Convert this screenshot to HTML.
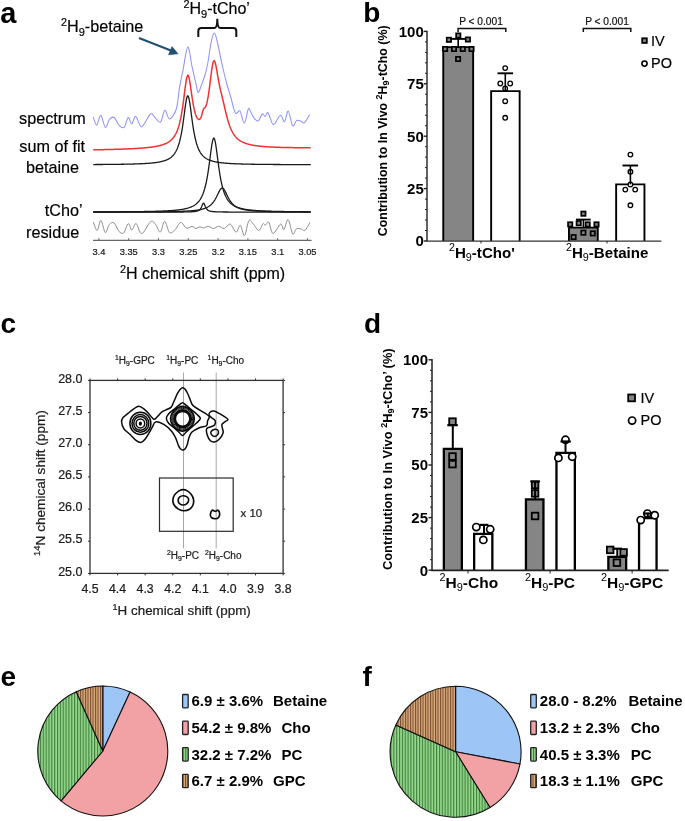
<!DOCTYPE html>
<html><head><meta charset="utf-8"><style>
html,body{margin:0;padding:0;background:#fff;}
svg{display:block;will-change:transform;}
text{font-family:"Liberation Sans", sans-serif;}
text:not([font-weight="bold"]){stroke:#111;stroke-width:0.2px;}
</style></head><body>
<svg width="685" height="821" viewBox="0 0 685 821">
<rect width="685" height="821" fill="#fff"/>
<defs><pattern id="pg" patternUnits="userSpaceOnUse" width="2.85" height="10"><rect width="2.85" height="10" fill="#94dc8c"/><rect x="0" width="1.15" height="10" fill="#427c3e"/></pattern><pattern id="pb" patternUnits="userSpaceOnUse" width="2.5" height="10"><rect width="2.5" height="10" fill="#d8ab7c"/><rect x="0" width="1.05" height="10" fill="#7a4c2e"/></pattern></defs>
<text x="0.3" y="23" font-size="29" font-weight="bold">a</text>
<text x="61" y="31.6" font-size="16.2"><tspan font-size="10.8" dy="-5.8">2</tspan><tspan dy="5.8">H</tspan><tspan font-size="11" dy="4">9</tspan><tspan dy="-4">-betaine</tspan></text>
<text x="183.5" y="13.7" font-size="16"><tspan font-size="10.8" dy="-5.8">2</tspan><tspan dy="5.8">H</tspan><tspan font-size="11" dy="4">9</tspan><tspan dy="-4">-tCho’</tspan></text>
<line x1="139" y1="38" x2="171.5" y2="50.7" stroke="#235070" stroke-width="2.1"/>
<path d="M178,53.8 L168.5,54.8 L172,46.6 Z" fill="#235070" stroke="#235070" stroke-width="0.6" stroke-linejoin="round"/>
<path d="M198.3,37 L198.3,31 Q198.3,28 201.3,28 L214.5,28 Q217.3,28 217.3,18.8 Q217.3,28 220.1,28 L233.3,28 Q236.3,28 236.3,31 L236.3,37" fill="none" stroke="#111" stroke-width="2"/>
<text x="52.4" y="124.2" font-size="16.2" text-anchor="middle">spectrum</text>
<text x="52.2" y="152.0" font-size="16.2" text-anchor="middle">sum of fit</text>
<text x="52.5" y="172.8" font-size="16.2" text-anchor="middle">betaine</text>
<text x="82.5" y="215.5" font-size="16.2" text-anchor="end">tCho’</text>
<text x="52.6" y="237.8" font-size="16.2" text-anchor="middle">residue</text>
<line x1="93" y1="240.3" x2="311.5" y2="240.3" stroke="#666" stroke-width="1.2"/>
<line x1="98.9" y1="238.2" x2="98.9" y2="240.3" stroke="#666" stroke-width="1"/>
<text x="98.9" y="254.5" font-size="9.3" text-anchor="middle" fill="#222">3.4</text>
<line x1="128.7" y1="238.2" x2="128.7" y2="240.3" stroke="#666" stroke-width="1"/>
<text x="128.7" y="254.5" font-size="9.3" text-anchor="middle" fill="#222">3.35</text>
<line x1="158.5" y1="238.2" x2="158.5" y2="240.3" stroke="#666" stroke-width="1"/>
<text x="158.5" y="254.5" font-size="9.3" text-anchor="middle" fill="#222">3.3</text>
<line x1="188.3" y1="238.2" x2="188.3" y2="240.3" stroke="#666" stroke-width="1"/>
<text x="188.3" y="254.5" font-size="9.3" text-anchor="middle" fill="#222">3.25</text>
<line x1="218.1" y1="238.2" x2="218.1" y2="240.3" stroke="#666" stroke-width="1"/>
<text x="218.1" y="254.5" font-size="9.3" text-anchor="middle" fill="#222">3.2</text>
<line x1="247.9" y1="238.2" x2="247.9" y2="240.3" stroke="#666" stroke-width="1"/>
<text x="247.9" y="254.5" font-size="9.3" text-anchor="middle" fill="#222">3.15</text>
<line x1="277.7" y1="238.2" x2="277.7" y2="240.3" stroke="#666" stroke-width="1"/>
<text x="277.7" y="254.5" font-size="9.3" text-anchor="middle" fill="#222">3.1</text>
<line x1="307.5" y1="238.2" x2="307.5" y2="240.3" stroke="#666" stroke-width="1"/>
<text x="307.5" y="254.5" font-size="9.3" text-anchor="middle" fill="#222">3.05</text>
<text x="120" y="279.3" font-size="16"><tspan font-size="10.8" dy="-6">2</tspan><tspan dy="6">H chemical shift (ppm)</tspan></text>
<path d="M93.20,164.54 L93.70,164.53 L94.20,164.53 L94.70,164.53 L95.20,164.53 L95.70,164.52 L96.20,164.52 L96.70,164.52 L97.20,164.51 L97.70,164.51 L98.20,164.51 L98.70,164.50 L99.20,164.50 L99.70,164.50 L100.20,164.49 L100.70,164.49 L101.20,164.49 L101.70,164.48 L102.20,164.48 L102.70,164.48 L103.20,164.47 L103.70,164.47 L104.20,164.46 L104.70,164.46 L105.20,164.46 L105.70,164.45 L106.20,164.45 L106.70,164.44 L107.20,164.44 L107.70,164.43 L108.20,164.43 L108.70,164.42 L109.20,164.42 L109.70,164.42 L110.20,164.41 L110.70,164.41 L111.20,164.40 L111.70,164.39 L112.20,164.39 L112.70,164.38 L113.20,164.38 L113.70,164.37 L114.20,164.37 L114.70,164.36 L115.20,164.35 L115.70,164.35 L116.20,164.34 L116.70,164.34 L117.20,164.33 L117.70,164.32 L118.20,164.32 L118.70,164.31 L119.20,164.30 L119.70,164.29 L120.20,164.29 L120.70,164.28 L121.20,164.27 L121.70,164.26 L122.20,164.26 L122.70,164.25 L123.20,164.24 L123.70,164.23 L124.20,164.22 L124.70,164.21 L125.20,164.20 L125.70,164.19 L126.20,164.18 L126.70,164.17 L127.20,164.16 L127.70,164.15 L128.20,164.14 L128.70,164.13 L129.20,164.12 L129.70,164.11 L130.20,164.10 L130.70,164.08 L131.20,164.07 L131.70,164.06 L132.20,164.04 L132.70,164.03 L133.20,164.02 L133.70,164.00 L134.20,163.99 L134.70,163.97 L135.20,163.96 L135.70,163.94 L136.20,163.92 L136.70,163.91 L137.20,163.89 L137.70,163.87 L138.20,163.85 L138.70,163.83 L139.20,163.81 L139.70,163.79 L140.20,163.77 L140.70,163.75 L141.20,163.73 L141.70,163.71 L142.20,163.68 L142.70,163.66 L143.20,163.63 L143.70,163.61 L144.20,163.58 L144.70,163.55 L145.20,163.52 L145.70,163.49 L146.20,163.46 L146.70,163.43 L147.20,163.40 L147.70,163.36 L148.20,163.33 L148.70,163.29 L149.20,163.25 L149.70,163.21 L150.20,163.17 L150.70,163.13 L151.20,163.08 L151.70,163.03 L152.20,162.99 L152.70,162.94 L153.20,162.88 L153.70,162.83 L154.20,162.77 L154.70,162.71 L155.20,162.65 L155.70,162.58 L156.20,162.51 L156.70,162.44 L157.20,162.37 L157.70,162.29 L158.20,162.21 L158.70,162.12 L159.20,162.03 L159.70,161.93 L160.20,161.83 L160.70,161.73 L161.20,161.62 L161.70,161.50 L162.20,161.38 L162.70,161.24 L163.20,161.11 L163.70,160.96 L164.20,160.81 L164.70,160.64 L165.20,160.47 L165.70,160.28 L166.20,160.08 L166.70,159.87 L167.20,159.65 L167.70,159.41 L168.20,159.16 L168.70,158.88 L169.20,158.59 L169.70,158.27 L170.20,157.94 L170.70,157.57 L171.20,157.18 L171.70,156.75 L172.20,156.29 L172.70,155.80 L173.20,155.25 L173.70,154.67 L174.20,154.03 L174.70,153.33 L175.20,152.56 L175.70,151.73 L176.20,150.81 L176.70,149.80 L177.20,148.69 L177.70,147.47 L178.20,146.12 L178.70,144.62 L179.20,142.97 L179.70,141.15 L180.20,139.13 L180.70,136.90 L181.20,134.44 L181.70,131.74 L182.20,128.79 L182.70,125.60 L183.20,122.16 L183.70,118.53 L184.20,114.75 L184.70,110.93 L185.20,107.18 L185.70,103.68 L186.20,100.60 L186.70,98.16 L187.20,96.52 L187.70,95.82 L188.20,96.12 L188.70,97.40 L189.20,99.54 L189.70,102.38 L190.20,105.74 L190.70,109.41 L191.20,113.22 L191.70,117.03 L192.20,120.73 L192.70,124.25 L193.20,127.54 L193.70,130.59 L194.20,133.39 L194.70,135.94 L195.20,138.26 L195.70,140.36 L196.20,142.26 L196.70,143.98 L197.20,145.54 L197.70,146.94 L198.20,148.22 L198.70,149.37 L199.20,150.42 L199.70,151.37 L200.20,152.24 L200.70,153.03 L201.20,153.75 L201.70,154.42 L202.20,155.03 L202.70,155.58 L203.20,156.10 L203.70,156.57 L204.20,157.01 L204.70,157.42 L205.20,157.79 L205.70,158.14 L206.20,158.47 L206.70,158.77 L207.20,159.05 L207.70,159.31 L208.20,159.56 L208.70,159.79 L209.20,160.00 L209.70,160.20 L210.20,160.39 L210.70,160.57 L211.20,160.74 L211.70,160.90 L212.20,161.05 L212.70,161.19 L213.20,161.32 L213.70,161.45 L214.20,161.57 L214.70,161.68 L215.20,161.79 L215.70,161.89 L216.20,161.99 L216.70,162.08 L217.20,162.17 L217.70,162.26 L218.20,162.34 L218.70,162.41 L219.20,162.49 L219.70,162.56 L220.20,162.62 L220.70,162.69 L221.20,162.75 L221.70,162.80 L222.20,162.86 L222.70,162.91 L223.20,162.97 L223.70,163.02 L224.20,163.06 L224.70,163.11 L225.20,163.15 L225.70,163.19 L226.20,163.23 L226.70,163.27 L227.20,163.31 L227.70,163.35 L228.20,163.38 L228.70,163.42 L229.20,163.45 L229.70,163.48 L230.20,163.51 L230.70,163.54 L231.20,163.57 L231.70,163.60 L232.20,163.62 L232.70,163.65 L233.20,163.67 L233.70,163.70 L234.20,163.72 L234.70,163.74 L235.20,163.76 L235.70,163.79 L236.20,163.81 L236.70,163.83 L237.20,163.85 L237.70,163.86 L238.20,163.88 L238.70,163.90 L239.20,163.92 L239.70,163.93 L240.20,163.95 L240.70,163.97 L241.20,163.98 L241.70,164.00 L242.20,164.01 L242.70,164.03 L243.20,164.04 L243.70,164.05 L244.20,164.07 L244.70,164.08 L245.20,164.09 L245.70,164.10 L246.20,164.11 L246.70,164.13 L247.20,164.14 L247.70,164.15 L248.20,164.16 L248.70,164.17 L249.20,164.18 L249.70,164.19 L250.20,164.20 L250.70,164.21 L251.20,164.22 L251.70,164.23 L252.20,164.24 L252.70,164.24 L253.20,164.25 L253.70,164.26 L254.20,164.27 L254.70,164.28 L255.20,164.28 L255.70,164.29 L256.20,164.30 L256.70,164.31 L257.20,164.31 L257.70,164.32 L258.20,164.33 L258.70,164.33 L259.20,164.34 L259.70,164.35 L260.20,164.35 L260.70,164.36 L261.20,164.36 L261.70,164.37 L262.20,164.38 L262.70,164.38 L263.20,164.39 L263.70,164.39 L264.20,164.40 L264.70,164.40 L265.20,164.41 L265.70,164.41 L266.20,164.42 L266.70,164.42 L267.20,164.43 L267.70,164.43 L268.20,164.44 L268.70,164.44 L269.20,164.45 L269.70,164.45 L270.20,164.45 L270.70,164.46 L271.20,164.46 L271.70,164.47 L272.20,164.47 L272.70,164.47 L273.20,164.48 L273.70,164.48 L274.20,164.49 L274.70,164.49 L275.20,164.49 L275.70,164.50 L276.20,164.50 L276.70,164.50 L277.20,164.51 L277.70,164.51 L278.20,164.51 L278.70,164.52 L279.20,164.52 L279.70,164.52 L280.20,164.52 L280.70,164.53 L281.20,164.53 L281.70,164.53 L282.20,164.54 L282.70,164.54 L283.20,164.54 L283.70,164.54 L284.20,164.55 L284.70,164.55 L285.20,164.55 L285.70,164.55 L286.20,164.56 L286.70,164.56 L287.20,164.56 L287.70,164.56 L288.20,164.57 L288.70,164.57 L289.20,164.57 L289.70,164.57 L290.20,164.58 L290.70,164.58 L291.20,164.58 L291.70,164.58 L292.20,164.58 L292.70,164.59 L293.20,164.59 L293.70,164.59 L294.20,164.59 L294.70,164.59 L295.20,164.60 L295.70,164.60 L296.20,164.60 L296.70,164.60 L297.20,164.60 L297.70,164.61 L298.20,164.61 L298.70,164.61 L299.20,164.61 L299.70,164.61 L300.20,164.61 L300.70,164.62 L301.20,164.62 L301.70,164.62 L302.20,164.62 L302.70,164.62 L303.20,164.62 L303.70,164.62 L304.20,164.63 L304.70,164.63 L305.20,164.63 L305.70,164.63 L306.20,164.63 L306.70,164.63 L307.20,164.63 L307.70,164.64 L308.20,164.64 L308.70,164.64 L309.20,164.64 L309.70,164.64 L310.20,164.64 L310.70,164.64" fill="none" stroke="#1a1a1a" stroke-width="1.3"/>
<path d="M93.20,211.90 L93.70,211.90 L94.20,211.90 L94.70,211.90 L95.20,211.90 L95.70,211.90 L96.20,211.89 L96.70,211.89 L97.20,211.89 L97.70,211.89 L98.20,211.89 L98.70,211.89 L99.20,211.88 L99.70,211.88 L100.20,211.88 L100.70,211.88 L101.20,211.88 L101.70,211.87 L102.20,211.87 L102.70,211.87 L103.20,211.87 L103.70,211.87 L104.20,211.86 L104.70,211.86 L105.20,211.86 L105.70,211.86 L106.20,211.86 L106.70,211.85 L107.20,211.85 L107.70,211.85 L108.20,211.85 L108.70,211.84 L109.20,211.84 L109.70,211.84 L110.20,211.84 L110.70,211.83 L111.20,211.83 L111.70,211.83 L112.20,211.83 L112.70,211.82 L113.20,211.82 L113.70,211.82 L114.20,211.81 L114.70,211.81 L115.20,211.81 L115.70,211.81 L116.20,211.80 L116.70,211.80 L117.20,211.80 L117.70,211.79 L118.20,211.79 L118.70,211.79 L119.20,211.78 L119.70,211.78 L120.20,211.78 L120.70,211.77 L121.20,211.77 L121.70,211.77 L122.20,211.76 L122.70,211.76 L123.20,211.76 L123.70,211.75 L124.20,211.75 L124.70,211.74 L125.20,211.74 L125.70,211.74 L126.20,211.73 L126.70,211.73 L127.20,211.72 L127.70,211.72 L128.20,211.71 L128.70,211.71 L129.20,211.70 L129.70,211.70 L130.20,211.70 L130.70,211.69 L131.20,211.69 L131.70,211.68 L132.20,211.68 L132.70,211.67 L133.20,211.66 L133.70,211.66 L134.20,211.65 L134.70,211.65 L135.20,211.64 L135.70,211.64 L136.20,211.63 L136.70,211.62 L137.20,211.62 L137.70,211.61 L138.20,211.61 L138.70,211.60 L139.20,211.59 L139.70,211.59 L140.20,211.58 L140.70,211.57 L141.20,211.56 L141.70,211.56 L142.20,211.55 L142.70,211.54 L143.20,211.53 L143.70,211.53 L144.20,211.52 L144.70,211.51 L145.20,211.50 L145.70,211.49 L146.20,211.48 L146.70,211.47 L147.20,211.46 L147.70,211.45 L148.20,211.44 L148.70,211.43 L149.20,211.42 L149.70,211.41 L150.20,211.40 L150.70,211.39 L151.20,211.38 L151.70,211.37 L152.20,211.36 L152.70,211.35 L153.20,211.33 L153.70,211.32 L154.20,211.31 L154.70,211.29 L155.20,211.28 L155.70,211.27 L156.20,211.25 L156.70,211.24 L157.20,211.22 L157.70,211.21 L158.20,211.19 L158.70,211.17 L159.20,211.16 L159.70,211.14 L160.20,211.12 L160.70,211.10 L161.20,211.09 L161.70,211.07 L162.20,211.05 L162.70,211.03 L163.20,211.01 L163.70,210.98 L164.20,210.96 L164.70,210.94 L165.20,210.91 L165.70,210.89 L166.20,210.87 L166.70,210.84 L167.20,210.81 L167.70,210.79 L168.20,210.76 L168.70,210.73 L169.20,210.70 L169.70,210.67 L170.20,210.63 L170.70,210.60 L171.20,210.57 L171.70,210.53 L172.20,210.49 L172.70,210.45 L173.20,210.41 L173.70,210.37 L174.20,210.33 L174.70,210.28 L175.20,210.24 L175.70,210.19 L176.20,210.14 L176.70,210.09 L177.20,210.04 L177.70,209.98 L178.20,209.92 L178.70,209.86 L179.20,209.80 L179.70,209.73 L180.20,209.66 L180.70,209.59 L181.20,209.52 L181.70,209.44 L182.20,209.36 L182.70,209.27 L183.20,209.18 L183.70,209.09 L184.20,208.99 L184.70,208.89 L185.20,208.78 L185.70,208.66 L186.20,208.55 L186.70,208.42 L187.20,208.29 L187.70,208.15 L188.20,208.00 L188.70,207.84 L189.20,207.68 L189.70,207.51 L190.20,207.32 L190.70,207.13 L191.20,206.92 L191.70,206.70 L192.20,206.47 L192.70,206.22 L193.20,205.95 L193.70,205.67 L194.20,205.37 L194.70,205.05 L195.20,204.70 L195.70,204.33 L196.20,203.93 L196.70,203.50 L197.20,203.04 L197.70,202.54 L198.20,202.01 L198.70,201.42 L199.20,200.79 L199.70,200.11 L200.20,199.37 L200.70,198.56 L201.20,197.68 L201.70,196.71 L202.20,195.66 L202.70,194.50 L203.20,193.24 L203.70,191.85 L204.20,190.32 L204.70,188.64 L205.20,186.79 L205.70,184.76 L206.20,182.53 L206.70,180.08 L207.20,177.41 L207.70,174.50 L208.20,171.35 L208.70,167.96 L209.20,164.37 L209.70,160.61 L210.20,156.76 L210.70,152.90 L211.20,149.17 L211.70,145.72 L212.20,142.72 L212.70,140.36 L213.20,138.79 L213.70,138.12 L214.20,138.41 L214.70,139.63 L215.20,141.69 L215.70,144.45 L216.20,147.74 L216.70,151.38 L217.20,155.21 L217.70,159.08 L218.20,162.89 L218.70,166.55 L219.20,170.02 L219.70,173.27 L220.20,176.27 L220.70,179.04 L221.20,181.58 L221.70,183.89 L222.20,186.00 L222.70,187.92 L223.20,189.67 L223.70,191.25 L224.20,192.70 L224.70,194.01 L225.20,195.21 L225.70,196.30 L226.20,197.30 L226.70,198.21 L227.20,199.05 L227.70,199.82 L228.20,200.53 L228.70,201.18 L229.20,201.78 L229.70,202.33 L230.20,202.85 L230.70,203.32 L231.20,203.76 L231.70,204.17 L232.20,204.55 L232.70,204.91 L233.20,205.24 L233.70,205.55 L234.20,205.84 L234.70,206.11 L235.20,206.37 L235.70,206.61 L236.20,206.83 L236.70,207.05 L237.20,207.25 L237.70,207.43 L238.20,207.61 L238.70,207.78 L239.20,207.94 L239.70,208.09 L240.20,208.23 L240.70,208.37 L241.20,208.50 L241.70,208.62 L242.20,208.73 L242.70,208.84 L243.20,208.95 L243.70,209.05 L244.20,209.14 L244.70,209.24 L245.20,209.32 L245.70,209.41 L246.20,209.49 L246.70,209.56 L247.20,209.64 L247.70,209.70 L248.20,209.77 L248.70,209.84 L249.20,209.90 L249.70,209.96 L250.20,210.01 L250.70,210.07 L251.20,210.12 L251.70,210.17 L252.20,210.22 L252.70,210.27 L253.20,210.31 L253.70,210.36 L254.20,210.40 L254.70,210.44 L255.20,210.48 L255.70,210.51 L256.20,210.55 L256.70,210.59 L257.20,210.62 L257.70,210.65 L258.20,210.68 L258.70,210.72 L259.20,210.75 L259.70,210.77 L260.20,210.80 L260.70,210.83 L261.20,210.86 L261.70,210.88 L262.20,210.91 L262.70,210.93 L263.20,210.95 L263.70,210.97 L264.20,211.00 L264.70,211.02 L265.20,211.04 L265.70,211.06 L266.20,211.08 L266.70,211.10 L267.20,211.12 L267.70,211.13 L268.20,211.15 L268.70,211.17 L269.20,211.18 L269.70,211.20 L270.20,211.22 L270.70,211.23 L271.20,211.25 L271.70,211.26 L272.20,211.28 L272.70,211.29 L273.20,211.30 L273.70,211.32 L274.20,211.33 L274.70,211.34 L275.20,211.35 L275.70,211.36 L276.20,211.38 L276.70,211.39 L277.20,211.40 L277.70,211.41 L278.20,211.42 L278.70,211.43 L279.20,211.44 L279.70,211.45 L280.20,211.46 L280.70,211.47 L281.20,211.48 L281.70,211.49 L282.20,211.50 L282.70,211.51 L283.20,211.51 L283.70,211.52 L284.20,211.53 L284.70,211.54 L285.20,211.55 L285.70,211.55 L286.20,211.56 L286.70,211.57 L287.20,211.58 L287.70,211.58 L288.20,211.59 L288.70,211.60 L289.20,211.60 L289.70,211.61 L290.20,211.62 L290.70,211.62 L291.20,211.63 L291.70,211.63 L292.20,211.64 L292.70,211.65 L293.20,211.65 L293.70,211.66 L294.20,211.66 L294.70,211.67 L295.20,211.67 L295.70,211.68 L296.20,211.68 L296.70,211.69 L297.20,211.69 L297.70,211.70 L298.20,211.70 L298.70,211.71 L299.20,211.71 L299.70,211.72 L300.20,211.72 L300.70,211.73 L301.20,211.73 L301.70,211.73 L302.20,211.74 L302.70,211.74 L303.20,211.75 L303.70,211.75 L304.20,211.75 L304.70,211.76 L305.20,211.76 L305.70,211.76 L306.20,211.77 L306.70,211.77 L307.20,211.78 L307.70,211.78 L308.20,211.78 L308.70,211.79 L309.20,211.79 L309.70,211.79 L310.20,211.80 L310.70,211.80" fill="none" stroke="#1a1a1a" stroke-width="1.3"/>
<path d="M93.20,212.02 L93.70,212.02 L94.20,212.02 L94.70,212.02 L95.20,212.02 L95.70,212.02 L96.20,212.02 L96.70,212.01 L97.20,212.01 L97.70,212.01 L98.20,212.01 L98.70,212.01 L99.20,212.01 L99.70,212.01 L100.20,212.01 L100.70,212.01 L101.20,212.01 L101.70,212.01 L102.20,212.01 L102.70,212.01 L103.20,212.01 L103.70,212.00 L104.20,212.00 L104.70,212.00 L105.20,212.00 L105.70,212.00 L106.20,212.00 L106.70,212.00 L107.20,212.00 L107.70,212.00 L108.20,212.00 L108.70,212.00 L109.20,211.99 L109.70,211.99 L110.20,211.99 L110.70,211.99 L111.20,211.99 L111.70,211.99 L112.20,211.99 L112.70,211.99 L113.20,211.99 L113.70,211.99 L114.20,211.98 L114.70,211.98 L115.20,211.98 L115.70,211.98 L116.20,211.98 L116.70,211.98 L117.20,211.98 L117.70,211.98 L118.20,211.98 L118.70,211.97 L119.20,211.97 L119.70,211.97 L120.20,211.97 L120.70,211.97 L121.20,211.97 L121.70,211.97 L122.20,211.97 L122.70,211.96 L123.20,211.96 L123.70,211.96 L124.20,211.96 L124.70,211.96 L125.20,211.96 L125.70,211.96 L126.20,211.95 L126.70,211.95 L127.20,211.95 L127.70,211.95 L128.20,211.95 L128.70,211.95 L129.20,211.94 L129.70,211.94 L130.20,211.94 L130.70,211.94 L131.20,211.94 L131.70,211.94 L132.20,211.93 L132.70,211.93 L133.20,211.93 L133.70,211.93 L134.20,211.93 L134.70,211.92 L135.20,211.92 L135.70,211.92 L136.20,211.92 L136.70,211.92 L137.20,211.91 L137.70,211.91 L138.20,211.91 L138.70,211.91 L139.20,211.91 L139.70,211.90 L140.20,211.90 L140.70,211.90 L141.20,211.90 L141.70,211.89 L142.20,211.89 L142.70,211.89 L143.20,211.89 L143.70,211.88 L144.20,211.88 L144.70,211.88 L145.20,211.87 L145.70,211.87 L146.20,211.87 L146.70,211.87 L147.20,211.86 L147.70,211.86 L148.20,211.86 L148.70,211.85 L149.20,211.85 L149.70,211.85 L150.20,211.84 L150.70,211.84 L151.20,211.84 L151.70,211.83 L152.20,211.83 L152.70,211.82 L153.20,211.82 L153.70,211.82 L154.20,211.81 L154.70,211.81 L155.20,211.80 L155.70,211.80 L156.20,211.79 L156.70,211.79 L157.20,211.78 L157.70,211.78 L158.20,211.77 L158.70,211.77 L159.20,211.76 L159.70,211.76 L160.20,211.75 L160.70,211.75 L161.20,211.74 L161.70,211.74 L162.20,211.73 L162.70,211.72 L163.20,211.72 L163.70,211.71 L164.20,211.71 L164.70,211.70 L165.20,211.69 L165.70,211.68 L166.20,211.68 L166.70,211.67 L167.20,211.66 L167.70,211.65 L168.20,211.65 L168.70,211.64 L169.20,211.63 L169.70,211.62 L170.20,211.61 L170.70,211.60 L171.20,211.59 L171.70,211.58 L172.20,211.57 L172.70,211.56 L173.20,211.55 L173.70,211.54 L174.20,211.53 L174.70,211.52 L175.20,211.50 L175.70,211.49 L176.20,211.48 L176.70,211.47 L177.20,211.45 L177.70,211.44 L178.20,211.42 L178.70,211.41 L179.20,211.39 L179.70,211.38 L180.20,211.36 L180.70,211.34 L181.20,211.32 L181.70,211.30 L182.20,211.28 L182.70,211.26 L183.20,211.24 L183.70,211.22 L184.20,211.20 L184.70,211.18 L185.20,211.15 L185.70,211.13 L186.20,211.10 L186.70,211.07 L187.20,211.05 L187.70,211.02 L188.20,210.99 L188.70,210.95 L189.20,210.92 L189.70,210.89 L190.20,210.85 L190.70,210.81 L191.20,210.77 L191.70,210.73 L192.20,210.69 L192.70,210.64 L193.20,210.60 L193.70,210.55 L194.20,210.49 L194.70,210.44 L195.20,210.38 L195.70,210.32 L196.20,210.26 L196.70,210.19 L197.20,210.12 L197.70,210.04 L198.20,209.96 L198.70,209.88 L199.20,209.79 L199.70,209.70 L200.20,209.60 L200.70,209.50 L201.20,209.39 L201.70,209.27 L202.20,209.14 L202.70,209.01 L203.20,208.86 L203.70,208.71 L204.20,208.55 L204.70,208.38 L205.20,208.19 L205.70,207.99 L206.20,207.78 L206.70,207.55 L207.20,207.30 L207.70,207.03 L208.20,206.75 L208.70,206.44 L209.20,206.11 L209.70,205.75 L210.20,205.36 L210.70,204.94 L211.20,204.48 L211.70,203.99 L212.20,203.46 L212.70,202.88 L213.20,202.26 L213.70,201.59 L214.20,200.87 L214.70,200.10 L215.20,199.27 L215.70,198.39 L216.20,197.47 L216.70,196.49 L217.20,195.48 L217.70,194.45 L218.20,193.41 L218.70,192.39 L219.20,191.41 L219.70,190.50 L220.20,189.69 L220.70,189.02 L221.20,188.52 L221.70,188.21 L222.20,188.10 L222.70,188.21 L223.20,188.52 L223.70,189.02 L224.20,189.69 L224.70,190.50 L225.20,191.41 L225.70,192.39 L226.20,193.41 L226.70,194.45 L227.20,195.48 L227.70,196.49 L228.20,197.47 L228.70,198.39 L229.20,199.27 L229.70,200.10 L230.20,200.87 L230.70,201.59 L231.20,202.26 L231.70,202.88 L232.20,203.46 L232.70,203.99 L233.20,204.48 L233.70,204.94 L234.20,205.36 L234.70,205.75 L235.20,206.11 L235.70,206.44 L236.20,206.75 L236.70,207.03 L237.20,207.30 L237.70,207.55 L238.20,207.78 L238.70,207.99 L239.20,208.19 L239.70,208.38 L240.20,208.55 L240.70,208.71 L241.20,208.86 L241.70,209.01 L242.20,209.14 L242.70,209.27 L243.20,209.39 L243.70,209.50 L244.20,209.60 L244.70,209.70 L245.20,209.79 L245.70,209.88 L246.20,209.96 L246.70,210.04 L247.20,210.12 L247.70,210.19 L248.20,210.26 L248.70,210.32 L249.20,210.38 L249.70,210.44 L250.20,210.49 L250.70,210.55 L251.20,210.60 L251.70,210.64 L252.20,210.69 L252.70,210.73 L253.20,210.77 L253.70,210.81 L254.20,210.85 L254.70,210.89 L255.20,210.92 L255.70,210.95 L256.20,210.99 L256.70,211.02 L257.20,211.05 L257.70,211.07 L258.20,211.10 L258.70,211.13 L259.20,211.15 L259.70,211.18 L260.20,211.20 L260.70,211.22 L261.20,211.24 L261.70,211.26 L262.20,211.28 L262.70,211.30 L263.20,211.32 L263.70,211.34 L264.20,211.36 L264.70,211.38 L265.20,211.39 L265.70,211.41 L266.20,211.42 L266.70,211.44 L267.20,211.45 L267.70,211.47 L268.20,211.48 L268.70,211.49 L269.20,211.50 L269.70,211.52 L270.20,211.53 L270.70,211.54 L271.20,211.55 L271.70,211.56 L272.20,211.57 L272.70,211.58 L273.20,211.59 L273.70,211.60 L274.20,211.61 L274.70,211.62 L275.20,211.63 L275.70,211.64 L276.20,211.65 L276.70,211.65 L277.20,211.66 L277.70,211.67 L278.20,211.68 L278.70,211.68 L279.20,211.69 L279.70,211.70 L280.20,211.71 L280.70,211.71 L281.20,211.72 L281.70,211.72 L282.20,211.73 L282.70,211.74 L283.20,211.74 L283.70,211.75 L284.20,211.75 L284.70,211.76 L285.20,211.76 L285.70,211.77 L286.20,211.77 L286.70,211.78 L287.20,211.78 L287.70,211.79 L288.20,211.79 L288.70,211.80 L289.20,211.80 L289.70,211.81 L290.20,211.81 L290.70,211.82 L291.20,211.82 L291.70,211.82 L292.20,211.83 L292.70,211.83 L293.20,211.84 L293.70,211.84 L294.20,211.84 L294.70,211.85 L295.20,211.85 L295.70,211.85 L296.20,211.86 L296.70,211.86 L297.20,211.86 L297.70,211.87 L298.20,211.87 L298.70,211.87 L299.20,211.87 L299.70,211.88 L300.20,211.88 L300.70,211.88 L301.20,211.89 L301.70,211.89 L302.20,211.89 L302.70,211.89 L303.20,211.90 L303.70,211.90 L304.20,211.90 L304.70,211.90 L305.20,211.91 L305.70,211.91 L306.20,211.91 L306.70,211.91 L307.20,211.91 L307.70,211.92 L308.20,211.92 L308.70,211.92 L309.20,211.92 L309.70,211.92 L310.20,211.93 L310.70,211.93" fill="none" stroke="#1a1a1a" stroke-width="1.3"/>
<path d="M93.20,212.10 L93.70,212.10 L94.20,212.10 L94.70,212.10 L95.20,212.10 L95.70,212.10 L96.20,212.10 L96.70,212.10 L97.20,212.10 L97.70,212.10 L98.20,212.10 L98.70,212.10 L99.20,212.10 L99.70,212.10 L100.20,212.10 L100.70,212.10 L101.20,212.10 L101.70,212.10 L102.20,212.10 L102.70,212.10 L103.20,212.10 L103.70,212.10 L104.20,212.10 L104.70,212.10 L105.20,212.10 L105.70,212.10 L106.20,212.09 L106.70,212.09 L107.20,212.09 L107.70,212.09 L108.20,212.09 L108.70,212.09 L109.20,212.09 L109.70,212.09 L110.20,212.09 L110.70,212.09 L111.20,212.09 L111.70,212.09 L112.20,212.09 L112.70,212.09 L113.20,212.09 L113.70,212.09 L114.20,212.09 L114.70,212.09 L115.20,212.09 L115.70,212.09 L116.20,212.09 L116.70,212.09 L117.20,212.09 L117.70,212.09 L118.20,212.09 L118.70,212.09 L119.20,212.09 L119.70,212.09 L120.20,212.09 L120.70,212.09 L121.20,212.09 L121.70,212.09 L122.20,212.09 L122.70,212.09 L123.20,212.09 L123.70,212.09 L124.20,212.09 L124.70,212.09 L125.20,212.09 L125.70,212.09 L126.20,212.09 L126.70,212.09 L127.20,212.09 L127.70,212.09 L128.20,212.09 L128.70,212.09 L129.20,212.09 L129.70,212.09 L130.20,212.09 L130.70,212.09 L131.20,212.09 L131.70,212.09 L132.20,212.09 L132.70,212.09 L133.20,212.09 L133.70,212.09 L134.20,212.09 L134.70,212.09 L135.20,212.09 L135.70,212.09 L136.20,212.09 L136.70,212.09 L137.20,212.09 L137.70,212.09 L138.20,212.09 L138.70,212.09 L139.20,212.09 L139.70,212.09 L140.20,212.09 L140.70,212.09 L141.20,212.09 L141.70,212.09 L142.20,212.09 L142.70,212.09 L143.20,212.09 L143.70,212.09 L144.20,212.09 L144.70,212.09 L145.20,212.09 L145.70,212.09 L146.20,212.09 L146.70,212.09 L147.20,212.09 L147.70,212.08 L148.20,212.08 L148.70,212.08 L149.20,212.08 L149.70,212.08 L150.20,212.08 L150.70,212.08 L151.20,212.08 L151.70,212.08 L152.20,212.08 L152.70,212.08 L153.20,212.08 L153.70,212.08 L154.20,212.08 L154.70,212.08 L155.20,212.08 L155.70,212.08 L156.20,212.08 L156.70,212.08 L157.20,212.08 L157.70,212.08 L158.20,212.08 L158.70,212.08 L159.20,212.08 L159.70,212.08 L160.20,212.07 L160.70,212.07 L161.20,212.07 L161.70,212.07 L162.20,212.07 L162.70,212.07 L163.20,212.07 L163.70,212.07 L164.20,212.07 L164.70,212.07 L165.20,212.07 L165.70,212.07 L166.20,212.07 L166.70,212.06 L167.20,212.06 L167.70,212.06 L168.20,212.06 L168.70,212.06 L169.20,212.06 L169.70,212.06 L170.20,212.06 L170.70,212.06 L171.20,212.05 L171.70,212.05 L172.20,212.05 L172.70,212.05 L173.20,212.05 L173.70,212.05 L174.20,212.04 L174.70,212.04 L175.20,212.04 L175.70,212.04 L176.20,212.04 L176.70,212.03 L177.20,212.03 L177.70,212.03 L178.20,212.03 L178.70,212.02 L179.20,212.02 L179.70,212.02 L180.20,212.01 L180.70,212.01 L181.20,212.01 L181.70,212.00 L182.20,212.00 L182.70,211.99 L183.20,211.99 L183.70,211.98 L184.20,211.97 L184.70,211.97 L185.20,211.96 L185.70,211.95 L186.20,211.94 L186.70,211.93 L187.20,211.92 L187.70,211.91 L188.20,211.90 L188.70,211.89 L189.20,211.87 L189.70,211.86 L190.20,211.84 L190.70,211.82 L191.20,211.80 L191.70,211.77 L192.20,211.74 L192.70,211.71 L193.20,211.67 L193.70,211.63 L194.20,211.58 L194.70,211.52 L195.20,211.46 L195.70,211.38 L196.20,211.29 L196.70,211.18 L197.20,211.04 L197.70,210.88 L198.20,210.67 L198.70,210.42 L199.20,210.10 L199.70,209.69 L200.20,209.16 L200.70,208.47 L201.20,207.60 L201.70,206.52 L202.20,205.28 L202.70,204.07 L203.20,203.25 L203.70,203.17 L204.20,203.86 L204.70,205.03 L205.20,206.28 L205.70,207.40 L206.20,208.32 L206.70,209.03 L207.20,209.59 L207.70,210.02 L208.20,210.36 L208.70,210.63 L209.20,210.84 L209.70,211.01 L210.20,211.15 L210.70,211.27 L211.20,211.36 L211.70,211.44 L212.20,211.51 L212.70,211.57 L213.20,211.62 L213.70,211.66 L214.20,211.70 L214.70,211.74 L215.20,211.77 L215.70,211.79 L216.20,211.81 L216.70,211.83 L217.20,211.85 L217.70,211.87 L218.20,211.88 L218.70,211.90 L219.20,211.91 L219.70,211.92 L220.20,211.93 L220.70,211.94 L221.20,211.95 L221.70,211.96 L222.20,211.97 L222.70,211.97 L223.20,211.98 L223.70,211.98 L224.20,211.99 L224.70,212.00 L225.20,212.00 L225.70,212.00 L226.20,212.01 L226.70,212.01 L227.20,212.02 L227.70,212.02 L228.20,212.02 L228.70,212.03 L229.20,212.03 L229.70,212.03 L230.20,212.03 L230.70,212.04 L231.20,212.04 L231.70,212.04 L232.20,212.04 L232.70,212.04 L233.20,212.05 L233.70,212.05 L234.20,212.05 L234.70,212.05 L235.20,212.05 L235.70,212.05 L236.20,212.06 L236.70,212.06 L237.20,212.06 L237.70,212.06 L238.20,212.06 L238.70,212.06 L239.20,212.06 L239.70,212.06 L240.20,212.06 L240.70,212.07 L241.20,212.07 L241.70,212.07 L242.20,212.07 L242.70,212.07 L243.20,212.07 L243.70,212.07 L244.20,212.07 L244.70,212.07 L245.20,212.07 L245.70,212.07 L246.20,212.07 L246.70,212.07 L247.20,212.08 L247.70,212.08 L248.20,212.08 L248.70,212.08 L249.20,212.08 L249.70,212.08 L250.20,212.08 L250.70,212.08 L251.20,212.08 L251.70,212.08 L252.20,212.08 L252.70,212.08 L253.20,212.08 L253.70,212.08 L254.20,212.08 L254.70,212.08 L255.20,212.08 L255.70,212.08 L256.20,212.08 L256.70,212.08 L257.20,212.08 L257.70,212.08 L258.20,212.08 L258.70,212.08 L259.20,212.08 L259.70,212.08 L260.20,212.09 L260.70,212.09 L261.20,212.09 L261.70,212.09 L262.20,212.09 L262.70,212.09 L263.20,212.09 L263.70,212.09 L264.20,212.09 L264.70,212.09 L265.20,212.09 L265.70,212.09 L266.20,212.09 L266.70,212.09 L267.20,212.09 L267.70,212.09 L268.20,212.09 L268.70,212.09 L269.20,212.09 L269.70,212.09 L270.20,212.09 L270.70,212.09 L271.20,212.09 L271.70,212.09 L272.20,212.09 L272.70,212.09 L273.20,212.09 L273.70,212.09 L274.20,212.09 L274.70,212.09 L275.20,212.09 L275.70,212.09 L276.20,212.09 L276.70,212.09 L277.20,212.09 L277.70,212.09 L278.20,212.09 L278.70,212.09 L279.20,212.09 L279.70,212.09 L280.20,212.09 L280.70,212.09 L281.20,212.09 L281.70,212.09 L282.20,212.09 L282.70,212.09 L283.20,212.09 L283.70,212.09 L284.20,212.09 L284.70,212.09 L285.20,212.09 L285.70,212.09 L286.20,212.09 L286.70,212.09 L287.20,212.09 L287.70,212.09 L288.20,212.09 L288.70,212.09 L289.20,212.09 L289.70,212.09 L290.20,212.09 L290.70,212.09 L291.20,212.09 L291.70,212.09 L292.20,212.09 L292.70,212.09 L293.20,212.09 L293.70,212.09 L294.20,212.09 L294.70,212.09 L295.20,212.09 L295.70,212.09 L296.20,212.09 L296.70,212.09 L297.20,212.09 L297.70,212.09 L298.20,212.09 L298.70,212.09 L299.20,212.09 L299.70,212.09 L300.20,212.09 L300.70,212.09 L301.20,212.10 L301.70,212.10 L302.20,212.10 L302.70,212.10 L303.20,212.10 L303.70,212.10 L304.20,212.10 L304.70,212.10 L305.20,212.10 L305.70,212.10 L306.20,212.10 L306.70,212.10 L307.20,212.10 L307.70,212.10 L308.20,212.10 L308.70,212.10 L309.20,212.10 L309.70,212.10 L310.20,212.10 L310.70,212.10" fill="none" stroke="#1a1a1a" stroke-width="1.3"/>
<path d="M93.20,149.86 L93.70,149.85 L94.20,149.84 L94.70,149.83 L95.20,149.82 L95.70,149.81 L96.20,149.80 L96.70,149.79 L97.20,149.78 L97.70,149.77 L98.20,149.76 L98.70,149.75 L99.20,149.74 L99.70,149.73 L100.20,149.71 L100.70,149.70 L101.20,149.69 L101.70,149.68 L102.20,149.67 L102.70,149.66 L103.20,149.65 L103.70,149.64 L104.20,149.63 L104.70,149.61 L105.20,149.60 L105.70,149.59 L106.20,149.58 L106.70,149.57 L107.20,149.55 L107.70,149.54 L108.20,149.53 L108.70,149.52 L109.20,149.50 L109.70,149.49 L110.20,149.48 L110.70,149.46 L111.20,149.45 L111.70,149.44 L112.20,149.42 L112.70,149.41 L113.20,149.40 L113.70,149.38 L114.20,149.37 L114.70,149.35 L115.20,149.34 L115.70,149.32 L116.20,149.31 L116.70,149.29 L117.20,149.28 L117.70,149.26 L118.20,149.25 L118.70,149.23 L119.20,149.21 L119.70,149.20 L120.20,149.18 L120.70,149.16 L121.20,149.15 L121.70,149.13 L122.20,149.11 L122.70,149.09 L123.20,149.07 L123.70,149.06 L124.20,149.04 L124.70,149.02 L125.20,149.00 L125.70,148.98 L126.20,148.96 L126.70,148.94 L127.20,148.92 L127.70,148.90 L128.20,148.87 L128.70,148.85 L129.20,148.83 L129.70,148.81 L130.20,148.78 L130.70,148.76 L131.20,148.74 L131.70,148.71 L132.20,148.69 L132.70,148.66 L133.20,148.64 L133.70,148.61 L134.20,148.58 L134.70,148.55 L135.20,148.53 L135.70,148.50 L136.20,148.47 L136.70,148.44 L137.20,148.41 L137.70,148.38 L138.20,148.34 L138.70,148.31 L139.20,148.28 L139.70,148.24 L140.20,148.21 L140.70,148.17 L141.20,148.14 L141.70,148.10 L142.20,148.06 L142.70,148.02 L143.20,147.98 L143.70,147.94 L144.20,147.90 L144.70,147.85 L145.20,147.81 L145.70,147.76 L146.20,147.71 L146.70,147.66 L147.20,147.61 L147.70,147.56 L148.20,147.51 L148.70,147.45 L149.20,147.39 L149.70,147.34 L150.20,147.27 L150.70,147.21 L151.20,147.15 L151.70,147.08 L152.20,147.01 L152.70,146.94 L153.20,146.87 L153.70,146.79 L154.20,146.71 L154.70,146.63 L155.20,146.54 L155.70,146.45 L156.20,146.36 L156.70,146.26 L157.20,146.16 L157.70,146.06 L158.20,145.95 L158.70,145.84 L159.20,145.72 L159.70,145.60 L160.20,145.47 L160.70,145.33 L161.20,145.19 L161.70,145.05 L162.20,144.89 L162.70,144.73 L163.20,144.56 L163.70,144.38 L164.20,144.19 L164.70,143.99 L165.20,143.78 L165.70,143.56 L166.20,143.32 L166.70,143.07 L167.20,142.81 L167.70,142.53 L168.20,142.23 L168.70,141.91 L169.20,141.58 L169.70,141.22 L170.20,140.83 L170.70,140.42 L171.20,139.97 L171.70,139.50 L172.20,138.98 L172.70,138.43 L173.20,137.83 L173.70,137.19 L174.20,136.48 L174.70,135.72 L175.20,134.89 L175.70,133.99 L176.20,133.00 L176.70,131.92 L177.20,130.74 L177.70,129.44 L178.20,128.00 L178.70,126.43 L179.20,124.69 L179.70,122.78 L180.20,120.66 L180.70,118.34 L181.20,115.78 L181.70,112.97 L182.20,109.91 L182.70,106.60 L183.20,103.05 L183.70,99.29 L184.20,95.38 L184.70,91.42 L185.20,87.53 L185.70,83.87 L186.20,80.64 L186.70,78.03 L187.20,76.21 L187.70,75.33 L188.20,75.44 L188.70,76.50 L189.20,78.43 L189.70,81.05 L190.20,84.16 L190.70,87.57 L191.20,91.11 L191.70,94.63 L192.20,98.02 L192.70,101.21 L193.20,104.15 L193.70,106.82 L194.20,109.21 L194.70,111.32 L195.20,113.16 L195.70,114.75 L196.20,116.09 L196.70,117.20 L197.20,118.08 L197.70,118.75 L198.20,119.19 L198.70,119.43 L199.20,119.43 L199.70,119.19 L200.20,118.68 L200.70,117.87 L201.20,116.72 L201.70,115.22 L202.20,113.40 L202.70,111.46 L203.20,109.74 L203.70,108.58 L204.20,108.02 L204.70,107.73 L205.20,107.33 L205.70,106.56 L206.20,105.35 L206.70,103.69 L207.20,101.60 L207.70,99.12 L208.20,96.26 L208.70,93.06 L209.20,89.56 L209.70,85.81 L210.20,81.89 L210.70,77.90 L211.20,73.97 L211.70,70.26 L212.20,66.95 L212.70,64.21 L213.20,62.19 L213.70,61.02 L214.20,60.74 L214.70,61.33 L215.20,62.70 L215.70,64.71 L216.20,67.18 L216.70,69.96 L217.20,72.88 L217.70,75.81 L218.20,78.67 L218.70,81.40 L219.20,83.97 L219.70,86.38 L220.20,88.65 L220.70,90.82 L221.20,92.92 L221.70,94.98 L222.20,97.04 L222.70,99.12 L223.20,101.24 L223.70,103.38 L224.20,105.54 L224.70,107.71 L225.20,109.86 L225.70,111.97 L226.20,114.04 L226.70,116.03 L227.20,117.93 L227.70,119.74 L228.20,121.46 L228.70,123.07 L229.20,124.58 L229.70,125.99 L230.20,127.31 L230.70,128.53 L231.20,129.67 L231.70,130.72 L232.20,131.70 L232.70,132.61 L233.20,133.46 L233.70,134.24 L234.20,134.98 L234.70,135.66 L235.20,136.29 L235.70,136.88 L236.20,137.43 L236.70,137.94 L237.20,138.43 L237.70,138.88 L238.20,139.30 L238.70,139.70 L239.20,140.07 L239.70,140.42 L240.20,140.75 L240.70,141.06 L241.20,141.35 L241.70,141.62 L242.20,141.88 L242.70,142.13 L243.20,142.36 L243.70,142.59 L244.20,142.80 L244.70,142.99 L245.20,143.18 L245.70,143.36 L246.20,143.53 L246.70,143.70 L247.20,143.85 L247.70,144.00 L248.20,144.14 L248.70,144.27 L249.20,144.40 L249.70,144.52 L250.20,144.64 L250.70,144.75 L251.20,144.86 L251.70,144.96 L252.20,145.06 L252.70,145.16 L253.20,145.25 L253.70,145.33 L254.20,145.42 L254.70,145.50 L255.20,145.58 L255.70,145.65 L256.20,145.72 L256.70,145.79 L257.20,145.86 L257.70,145.92 L258.20,145.98 L258.70,146.04 L259.20,146.10 L259.70,146.15 L260.20,146.20 L260.70,146.26 L261.20,146.31 L261.70,146.35 L262.20,146.40 L262.70,146.44 L263.20,146.49 L263.70,146.53 L264.20,146.57 L264.70,146.61 L265.20,146.64 L265.70,146.68 L266.20,146.72 L266.70,146.75 L267.20,146.78 L267.70,146.82 L268.20,146.85 L268.70,146.88 L269.20,146.91 L269.70,146.93 L270.20,146.96 L270.70,146.99 L271.20,147.01 L271.70,147.04 L272.20,147.06 L272.70,147.09 L273.20,147.11 L273.70,147.13 L274.20,147.15 L274.70,147.17 L275.20,147.19 L275.70,147.21 L276.20,147.23 L276.70,147.25 L277.20,147.27 L277.70,147.28 L278.20,147.30 L278.70,147.32 L279.20,147.33 L279.70,147.35 L280.20,147.36 L280.70,147.38 L281.20,147.39 L281.70,147.41 L282.20,147.42 L282.70,147.43 L283.20,147.44 L283.70,147.46 L284.20,147.47 L284.70,147.48 L285.20,147.49 L285.70,147.50 L286.20,147.51 L286.70,147.52 L287.20,147.53 L287.70,147.54 L288.20,147.55 L288.70,147.56 L289.20,147.57 L289.70,147.58 L290.20,147.59 L290.70,147.59 L291.20,147.60 L291.70,147.61 L292.20,147.62 L292.70,147.62 L293.20,147.63 L293.70,147.64 L294.20,147.64 L294.70,147.65 L295.20,147.66 L295.70,147.66 L296.20,147.67 L296.70,147.67 L297.20,147.68 L297.70,147.68 L298.20,147.69 L298.70,147.69 L299.20,147.70 L299.70,147.70 L300.20,147.71 L300.70,147.71 L301.20,147.72 L301.70,147.72 L302.20,147.72 L302.70,147.73 L303.20,147.73 L303.70,147.73 L304.20,147.74 L304.70,147.74 L305.20,147.74 L305.70,147.75 L306.20,147.75 L306.70,147.75 L307.20,147.75 L307.70,147.76 L308.20,147.76 L308.70,147.76 L309.20,147.76 L309.70,147.76 L310.20,147.77 L310.70,147.77" fill="none" stroke="#ee3333" stroke-width="1.5"/>
<path d="M93.20,116.90 C93.78,118.27 95.43,125.38 96.70,125.10 C97.97,124.82 99.35,114.82 100.80,115.20 C102.25,115.58 103.95,126.72 105.40,127.40 C106.85,128.08 108.03,120.95 109.50,119.30 C110.97,117.65 112.63,116.53 114.20,117.50 C115.77,118.47 117.25,123.45 118.90,125.10 C120.55,126.75 122.55,128.67 124.10,127.40 C125.65,126.13 126.93,118.08 128.20,117.50 C129.47,116.92 130.43,124.08 131.70,123.90 C132.97,123.72 134.15,115.90 135.80,116.40 C137.45,116.90 139.17,127.30 141.60,126.90 C144.03,126.50 148.27,115.68 150.40,114.00 C152.53,112.32 152.73,115.43 154.40,116.80 C156.07,118.17 158.67,123.30 160.40,122.20 C162.13,121.10 163.28,110.73 164.80,110.20 C166.32,109.67 167.58,119.20 169.50,119.00 C171.42,118.80 174.62,114.32 176.30,109.00 C177.98,103.68 178.50,93.48 179.60,87.10 C180.70,80.72 181.53,77.37 182.90,70.70 C184.27,64.03 186.25,47.65 187.80,47.10 C189.35,46.55 190.83,61.27 192.20,67.40 C193.57,73.53 195.00,79.70 196.00,83.90 C197.00,88.10 197.28,92.42 198.20,92.60 C199.12,92.78 200.37,87.93 201.50,85.00 C202.63,82.07 203.92,78.83 205.00,75.00 C206.08,71.17 207.00,67.33 208.00,62.00 C209.00,56.67 209.93,47.82 211.00,43.00 C212.07,38.18 213.23,32.77 214.40,33.10 C215.57,33.43 216.73,39.85 218.00,45.00 C219.27,50.15 220.62,57.83 222.00,64.00 C223.38,70.17 224.87,76.58 226.30,82.00 C227.73,87.42 229.08,91.33 230.60,96.50 C232.12,101.67 233.83,110.58 235.40,113.00 C236.97,115.42 238.53,109.28 240.00,111.00 C241.47,112.72 242.83,123.58 244.20,123.30 C245.57,123.02 247.23,111.43 248.20,109.30 C249.17,107.17 249.03,109.05 250.00,110.50 C250.97,111.95 252.63,116.25 254.00,118.00 C255.37,119.75 256.82,121.67 258.20,121.00 C259.58,120.33 261.13,114.77 262.30,114.00 C263.47,113.23 264.23,116.60 265.20,116.40 C266.17,116.20 266.73,111.45 268.10,112.80 C269.47,114.15 271.35,124.10 273.40,124.50 C275.45,124.90 278.55,115.68 280.40,115.20 C282.25,114.72 283.18,122.28 284.50,121.60 C285.82,120.92 286.95,110.42 288.30,111.10 C289.65,111.78 291.20,124.15 292.60,125.70 C294.00,127.25 295.33,121.18 296.70,120.40 C298.07,119.62 299.53,120.60 300.80,121.00 C302.07,121.40 302.83,123.87 304.30,122.80 C305.77,121.73 308.72,115.97 309.60,114.60" fill="none" stroke="#9093f6" stroke-width="1.05"/>
<path d="M93.20,222.00 C93.87,223.42 95.92,230.77 97.20,230.50 C98.48,230.23 99.55,220.05 100.90,220.40 C102.25,220.75 103.90,231.92 105.30,232.60 C106.70,233.28 107.83,226.12 109.30,224.50 C110.77,222.88 112.50,221.77 114.10,222.90 C115.70,224.03 117.30,229.63 118.90,231.30 C120.50,232.97 122.15,234.18 123.70,232.90 C125.25,231.62 126.85,224.08 128.20,223.60 C129.55,223.12 130.47,230.00 131.80,230.00 C133.13,230.00 134.55,222.98 136.20,223.60 C137.85,224.22 139.28,234.03 141.70,233.70 C144.12,233.37 148.35,223.08 150.70,221.60 C153.05,220.12 154.20,223.05 155.80,224.80 C157.40,226.55 158.82,232.68 160.30,232.10 C161.78,231.52 163.17,221.22 164.70,221.30 C166.23,221.38 167.77,231.20 169.50,232.60 C171.23,234.00 173.23,231.40 175.10,229.70 C176.97,228.00 178.82,222.67 180.70,222.40 C182.58,222.13 184.52,227.42 186.40,228.10 C188.28,228.78 190.40,226.43 192.00,226.50 C193.60,226.57 194.67,228.45 196.00,228.50 C197.33,228.55 198.77,226.88 200.00,226.80 C201.23,226.72 202.00,228.08 203.40,228.00 C204.80,227.92 206.73,226.22 208.40,226.30 C210.07,226.38 211.72,228.50 213.40,228.50 C215.08,228.50 216.68,226.30 218.50,226.30 C220.32,226.30 222.35,228.87 224.30,228.50 C226.25,228.13 228.23,223.50 230.20,224.10 C232.17,224.70 234.42,231.88 236.10,232.10 C237.78,232.32 238.90,224.83 240.30,225.40 C241.70,225.97 243.05,236.33 244.50,235.50 C245.95,234.67 247.47,222.22 249.00,220.40 C250.53,218.58 252.07,222.92 253.70,224.60 C255.33,226.28 257.25,230.63 258.80,230.50 C260.35,230.37 261.88,224.70 263.00,223.80 C264.12,222.90 264.53,225.38 265.50,225.10 C266.47,224.82 267.55,220.70 268.80,222.10 C270.05,223.50 271.03,233.17 273.00,233.50 C274.97,233.83 278.78,224.75 280.60,224.10 C282.42,223.45 282.65,230.35 283.90,229.60 C285.15,228.85 286.63,218.90 288.10,219.60 C289.57,220.30 291.30,232.27 292.70,233.80 C294.10,235.33 295.02,229.58 296.50,228.80 C297.98,228.02 300.20,228.82 301.60,229.10 C303.00,229.38 303.50,231.62 304.90,230.50 C306.30,229.38 309.15,223.75 310.00,222.40" fill="none" stroke="#8c8c8c" stroke-width="1"/>
<text x="363.3" y="21.9" font-size="28" font-weight="bold">b</text>
<line x1="427" y1="30.699999999999978" x2="427" y2="241" stroke="#222" stroke-width="1.4"/>
<line x1="423.8" y1="241.00" x2="427" y2="241.00" stroke="#222" stroke-width="1.4"/>
<text x="423.8" y="246.30" font-size="15" font-weight="bold" text-anchor="end">0</text>
<line x1="425" y1="230.52" x2="427" y2="230.52" stroke="#222" stroke-width="1"/>
<line x1="425" y1="220.04" x2="427" y2="220.04" stroke="#222" stroke-width="1"/>
<line x1="425" y1="209.56" x2="427" y2="209.56" stroke="#222" stroke-width="1"/>
<line x1="425" y1="199.08" x2="427" y2="199.08" stroke="#222" stroke-width="1"/>
<line x1="423.8" y1="188.60" x2="427" y2="188.60" stroke="#222" stroke-width="1.4"/>
<text x="423.8" y="193.90" font-size="15" font-weight="bold" text-anchor="end">25</text>
<line x1="425" y1="178.12" x2="427" y2="178.12" stroke="#222" stroke-width="1"/>
<line x1="425" y1="167.64" x2="427" y2="167.64" stroke="#222" stroke-width="1"/>
<line x1="425" y1="157.16" x2="427" y2="157.16" stroke="#222" stroke-width="1"/>
<line x1="425" y1="146.68" x2="427" y2="146.68" stroke="#222" stroke-width="1"/>
<line x1="423.8" y1="136.20" x2="427" y2="136.20" stroke="#222" stroke-width="1.4"/>
<text x="423.8" y="141.50" font-size="15" font-weight="bold" text-anchor="end">50</text>
<line x1="425" y1="125.72" x2="427" y2="125.72" stroke="#222" stroke-width="1"/>
<line x1="425" y1="115.24" x2="427" y2="115.24" stroke="#222" stroke-width="1"/>
<line x1="425" y1="104.76" x2="427" y2="104.76" stroke="#222" stroke-width="1"/>
<line x1="425" y1="94.28" x2="427" y2="94.28" stroke="#222" stroke-width="1"/>
<line x1="423.8" y1="83.80" x2="427" y2="83.80" stroke="#222" stroke-width="1.4"/>
<text x="423.8" y="89.10" font-size="15" font-weight="bold" text-anchor="end">75</text>
<line x1="425" y1="73.32" x2="427" y2="73.32" stroke="#222" stroke-width="1"/>
<line x1="425" y1="62.84" x2="427" y2="62.84" stroke="#222" stroke-width="1"/>
<line x1="425" y1="52.36" x2="427" y2="52.36" stroke="#222" stroke-width="1"/>
<line x1="425" y1="41.88" x2="427" y2="41.88" stroke="#222" stroke-width="1"/>
<line x1="423.8" y1="31.40" x2="427" y2="31.40" stroke="#222" stroke-width="1.4"/>
<text x="423.8" y="36.70" font-size="15" font-weight="bold" text-anchor="end">100</text>
<rect x="443.25" y="47.12" width="29.90" height="193.88" fill="#858585"/>
<path d="M443.25,241 L443.25,47.12 L473.15,47.12 L473.15,241" fill="none" stroke="#000" stroke-width="1.9" stroke-linejoin="miter"/>
<rect x="491.15" y="91.14" width="28.50" height="149.86" fill="#fff"/>
<path d="M491.15,241 L491.15,91.14 L519.65,91.14 L519.65,241" fill="none" stroke="#000" stroke-width="1.9" stroke-linejoin="miter"/>
<rect x="568.95" y="227.59" width="28.80" height="13.41" fill="#858585"/>
<path d="M568.95,241 L568.95,227.59 L597.75,227.59 L597.75,241" fill="none" stroke="#000" stroke-width="1.9" stroke-linejoin="miter"/>
<rect x="616.15" y="184.41" width="28.30" height="56.59" fill="#fff"/>
<path d="M616.15,241 L616.15,184.41 L644.45,184.41 L644.45,241" fill="none" stroke="#000" stroke-width="1.9" stroke-linejoin="miter"/>
<rect x="456.15" y="33.35" width="4.3" height="4.3" fill="#858585" stroke="#000" stroke-width="1.7"/>
<rect x="446.75" y="37.65" width="4.3" height="4.3" fill="#858585" stroke="#000" stroke-width="1.7"/>
<rect x="465.75" y="37.35" width="4.3" height="4.3" fill="#858585" stroke="#000" stroke-width="1.7"/>
<rect x="442.95" y="46.85" width="4.3" height="4.3" fill="#858585" stroke="#000" stroke-width="1.7"/>
<rect x="451.85" y="46.85" width="4.3" height="4.3" fill="#858585" stroke="#000" stroke-width="1.7"/>
<rect x="460.65" y="46.85" width="4.3" height="4.3" fill="#858585" stroke="#000" stroke-width="1.7"/>
<rect x="469.35" y="46.85" width="4.3" height="4.3" fill="#858585" stroke="#000" stroke-width="1.7"/>
<rect x="455.95" y="56.85" width="4.3" height="4.3" fill="#858585" stroke="#000" stroke-width="1.7"/>
<rect x="581.25" y="211.55" width="4.3" height="4.3" fill="#858585" stroke="#000" stroke-width="1.7"/>
<rect x="568.05" y="222.25" width="4.3" height="4.3" fill="#858585" stroke="#000" stroke-width="1.7"/>
<rect x="576.55" y="221.05" width="4.3" height="4.3" fill="#858585" stroke="#000" stroke-width="1.7"/>
<rect x="585.55" y="222.25" width="4.3" height="4.3" fill="#858585" stroke="#000" stroke-width="1.7"/>
<rect x="594.35" y="222.25" width="4.3" height="4.3" fill="#858585" stroke="#000" stroke-width="1.7"/>
<rect x="581.25" y="230.55" width="4.3" height="4.3" fill="#858585" stroke="#000" stroke-width="1.7"/>
<rect x="590.65" y="231.25" width="4.3" height="4.3" fill="#858585" stroke="#000" stroke-width="1.7"/>
<rect x="571.45" y="234.95" width="4.3" height="4.3" fill="#858585" stroke="#000" stroke-width="1.7"/>
<circle cx="505.20" cy="68.10" r="2.3" fill="#fff" stroke="#000" stroke-width="1.3"/>
<circle cx="500.30" cy="83.50" r="2.3" fill="#fff" stroke="#000" stroke-width="1.3"/>
<circle cx="510.20" cy="83.50" r="2.3" fill="#fff" stroke="#000" stroke-width="1.3"/>
<circle cx="505.20" cy="88.50" r="2.3" fill="#fff" stroke="#000" stroke-width="1.3"/>
<circle cx="505.20" cy="101.20" r="2.3" fill="#fff" stroke="#000" stroke-width="1.3"/>
<circle cx="505.20" cy="117.80" r="2.3" fill="#fff" stroke="#000" stroke-width="1.3"/>
<circle cx="630.40" cy="154.60" r="2.3" fill="#fff" stroke="#000" stroke-width="1.3"/>
<circle cx="630.40" cy="171.80" r="2.3" fill="#fff" stroke="#000" stroke-width="1.3"/>
<circle cx="630.40" cy="184.50" r="2.3" fill="#fff" stroke="#000" stroke-width="1.3"/>
<circle cx="625.30" cy="189.60" r="2.3" fill="#fff" stroke="#000" stroke-width="1.3"/>
<circle cx="635.20" cy="189.60" r="2.3" fill="#fff" stroke="#000" stroke-width="1.3"/>
<circle cx="630.40" cy="205.30" r="2.3" fill="#fff" stroke="#000" stroke-width="1.3"/>
<line x1="458.2" y1="38.9" x2="458.2" y2="47.12" stroke="#000" stroke-width="1.6"/>
<line x1="450.5" y1="38.9" x2="465.7" y2="38.9" stroke="#000" stroke-width="1.9"/>
<line x1="505.3" y1="73.3" x2="505.3" y2="91.14" stroke="#000" stroke-width="1.6"/>
<line x1="497.5" y1="73.3" x2="513.1" y2="73.3" stroke="#000" stroke-width="1.9"/>
<line x1="583.4" y1="219.6" x2="583.4" y2="227.59" stroke="#000" stroke-width="1.6"/>
<line x1="576" y1="219.6" x2="590.7" y2="219.6" stroke="#000" stroke-width="1.9"/>
<line x1="630.4" y1="165.5" x2="630.4" y2="184.41" stroke="#000" stroke-width="1.6"/>
<line x1="622.5" y1="165.5" x2="638.1" y2="165.5" stroke="#000" stroke-width="1.9"/>
<line x1="426.3" y1="241.2" x2="661.3" y2="241.2" stroke="#333" stroke-width="1.2"/>
<line x1="481" y1="241" x2="481" y2="243.5" stroke="#222" stroke-width="1"/>
<line x1="607" y1="241" x2="607" y2="243.5" stroke="#222" stroke-width="1"/>
<path d="M458.1,32 L458.1,28.4 L505.8,28.4 L505.8,32" fill="none" stroke="#111" stroke-width="1.5"/>
<text x="481" y="24.5" font-size="10.2" text-anchor="middle" fill="#111">P &lt; 0.001</text>
<path d="M583.3,32 L583.3,28.4 L630.8,28.4 L630.8,32" fill="none" stroke="#111" stroke-width="1.5"/>
<text x="607" y="24.5" font-size="10.2" text-anchor="middle" fill="#111">P &lt; 0.001</text>
<rect x="642.20" y="38.30" width="4.6" height="4.6" fill="#858585" stroke="#000" stroke-width="1.8"/>
<text x="651" y="45.5" font-size="14.5">IV</text>
<circle cx="644.50" cy="63.60" r="2.6" fill="#fff" stroke="#000" stroke-width="1.6"/>
<text x="651" y="68" font-size="14.5">PO</text>
<text x="449" y="257.5" font-size="15.1" font-weight="bold"><tspan font-size="10.6" font-weight="normal" dy="-6.8">2</tspan><tspan dy="6.8">H</tspan><tspan font-size="10.8" font-weight="normal" dy="3.6">9</tspan><tspan dy="-3.6">-tCho'</tspan></text>
<text x="566" y="257.5" font-size="15.1" font-weight="bold"><tspan font-size="10.6" font-weight="normal" dy="-6.8">2</tspan><tspan dy="6.8">H</tspan><tspan font-size="10.8" font-weight="normal" dy="3.6">9</tspan><tspan dy="-3.6">-Betaine</tspan></text>
<text transform="translate(386.9,130.8) rotate(-90)" font-size="12.4" font-weight="bold" text-anchor="middle">Contribution to In Vivo <tspan font-size="9" dy="-4.5">2</tspan><tspan dy="4.5">H</tspan><tspan font-size="9" dy="2">9</tspan><tspan dy="-2">-tCho (%)</tspan></text>
<text x="0.5" y="332.8" font-size="28" font-weight="bold">c</text>
<line x1="183.5" y1="372.6" x2="183.5" y2="548.3" stroke="#a8a8a8" stroke-width="1"/>
<line x1="216.2" y1="372.6" x2="216.2" y2="548.3" stroke="#a8a8a8" stroke-width="1"/>
<rect x="90" y="380.4" width="193.10000000000002" height="193.0" fill="none" stroke="#333" stroke-width="1.3"/>
<line x1="90.00" y1="378.4" x2="90.00" y2="380.4" stroke="#333" stroke-width="1"/>
<line x1="90.00" y1="573.4" x2="90.00" y2="575.4" stroke="#333" stroke-width="1"/>
<text x="90.00" y="592.8" font-size="12.3" text-anchor="middle" fill="#222">4.5</text>
<line x1="117.59" y1="378.4" x2="117.59" y2="380.4" stroke="#333" stroke-width="1"/>
<line x1="117.59" y1="573.4" x2="117.59" y2="575.4" stroke="#333" stroke-width="1"/>
<text x="117.59" y="592.8" font-size="12.3" text-anchor="middle" fill="#222">4.4</text>
<line x1="145.17" y1="378.4" x2="145.17" y2="380.4" stroke="#333" stroke-width="1"/>
<line x1="145.17" y1="573.4" x2="145.17" y2="575.4" stroke="#333" stroke-width="1"/>
<text x="145.17" y="592.8" font-size="12.3" text-anchor="middle" fill="#222">4.3</text>
<line x1="172.76" y1="378.4" x2="172.76" y2="380.4" stroke="#333" stroke-width="1"/>
<line x1="172.76" y1="573.4" x2="172.76" y2="575.4" stroke="#333" stroke-width="1"/>
<text x="172.76" y="592.8" font-size="12.3" text-anchor="middle" fill="#222">4.2</text>
<line x1="200.34" y1="378.4" x2="200.34" y2="380.4" stroke="#333" stroke-width="1"/>
<line x1="200.34" y1="573.4" x2="200.34" y2="575.4" stroke="#333" stroke-width="1"/>
<text x="200.34" y="592.8" font-size="12.3" text-anchor="middle" fill="#222">4.1</text>
<line x1="227.93" y1="378.4" x2="227.93" y2="380.4" stroke="#333" stroke-width="1"/>
<line x1="227.93" y1="573.4" x2="227.93" y2="575.4" stroke="#333" stroke-width="1"/>
<text x="227.93" y="592.8" font-size="12.3" text-anchor="middle" fill="#222">4.0</text>
<line x1="255.51" y1="378.4" x2="255.51" y2="380.4" stroke="#333" stroke-width="1"/>
<line x1="255.51" y1="573.4" x2="255.51" y2="575.4" stroke="#333" stroke-width="1"/>
<text x="255.51" y="592.8" font-size="12.3" text-anchor="middle" fill="#222">3.9</text>
<line x1="283.10" y1="378.4" x2="283.10" y2="380.4" stroke="#333" stroke-width="1"/>
<line x1="283.10" y1="573.4" x2="283.10" y2="575.4" stroke="#333" stroke-width="1"/>
<text x="283.10" y="592.8" font-size="12.3" text-anchor="middle" fill="#222">3.8</text>
<line x1="88" y1="380.40" x2="90" y2="380.40" stroke="#333" stroke-width="1"/>
<line x1="283.1" y1="380.40" x2="285.1" y2="380.40" stroke="#333" stroke-width="1"/>
<text x="82.5" y="382.60" font-size="12.5" text-anchor="end" fill="#222">28.0</text>
<line x1="88" y1="412.57" x2="90" y2="412.57" stroke="#333" stroke-width="1"/>
<line x1="283.1" y1="412.57" x2="285.1" y2="412.57" stroke="#333" stroke-width="1"/>
<text x="82.5" y="414.77" font-size="12.5" text-anchor="end" fill="#222">27.5</text>
<line x1="88" y1="444.73" x2="90" y2="444.73" stroke="#333" stroke-width="1"/>
<line x1="283.1" y1="444.73" x2="285.1" y2="444.73" stroke="#333" stroke-width="1"/>
<text x="82.5" y="446.93" font-size="12.5" text-anchor="end" fill="#222">27.0</text>
<line x1="88" y1="476.90" x2="90" y2="476.90" stroke="#333" stroke-width="1"/>
<line x1="283.1" y1="476.90" x2="285.1" y2="476.90" stroke="#333" stroke-width="1"/>
<text x="82.5" y="479.10" font-size="12.5" text-anchor="end" fill="#222">26.5</text>
<line x1="88" y1="509.07" x2="90" y2="509.07" stroke="#333" stroke-width="1"/>
<line x1="283.1" y1="509.07" x2="285.1" y2="509.07" stroke="#333" stroke-width="1"/>
<text x="82.5" y="511.27" font-size="12.5" text-anchor="end" fill="#222">26.0</text>
<line x1="88" y1="541.23" x2="90" y2="541.23" stroke="#333" stroke-width="1"/>
<line x1="283.1" y1="541.23" x2="285.1" y2="541.23" stroke="#333" stroke-width="1"/>
<text x="82.5" y="543.43" font-size="12.5" text-anchor="end" fill="#222">25.5</text>
<line x1="88" y1="573.40" x2="90" y2="573.40" stroke="#333" stroke-width="1"/>
<line x1="283.1" y1="573.40" x2="285.1" y2="573.40" stroke="#333" stroke-width="1"/>
<text x="82.5" y="575.60" font-size="12.5" text-anchor="end" fill="#222">25.0</text>
<text x="115" y="364.1" font-size="10" text-anchor="start" fill="#222"><tspan font-size="6.8" dy="-3.80">1</tspan><tspan dy="3.80">H</tspan><tspan font-size="6.8" dy="2.00">9</tspan><tspan dy="-2.00">-GPC</tspan></text>
<text x="166.3" y="364.1" font-size="10" text-anchor="start" fill="#222"><tspan font-size="6.8" dy="-3.80">1</tspan><tspan dy="3.80">H</tspan><tspan font-size="6.8" dy="2.00">9</tspan><tspan dy="-2.00">-PC</tspan></text>
<text x="207.6" y="364.1" font-size="10" text-anchor="start" fill="#222"><tspan font-size="6.8" dy="-3.80">1</tspan><tspan dy="3.80">H</tspan><tspan font-size="6.8" dy="2.00">9</tspan><tspan dy="-2.00">-Cho</tspan></text>
<text x="167" y="558.7" font-size="10" text-anchor="start" fill="#222"><tspan font-size="6.8" dy="-3.80">2</tspan><tspan dy="3.80">H</tspan><tspan font-size="6.8" dy="2.00">9</tspan><tspan dy="-2.00">-PC</tspan></text>
<text x="205" y="558.7" font-size="10" text-anchor="start" fill="#222"><tspan font-size="6.8" dy="-3.80">2</tspan><tspan dy="3.80">H</tspan><tspan font-size="6.8" dy="2.00">9</tspan><tspan dy="-2.00">-Cho</tspan></text>
<text x="240.5" y="517.4" font-size="11.5" fill="#222">x 10</text>
<text x="112.6" y="614.6" font-size="13.4" fill="#222"><tspan font-size="9" dy="-5">1</tspan><tspan dy="5">H chemical shift (ppm)</tspan></text>
<text transform="translate(45.1,483.1) rotate(-90)" font-size="13.6" text-anchor="middle" fill="#222"><tspan font-size="9.5" dy="-5">14</tspan><tspan dy="5">N chemical shift (ppm)</tspan></text>
<path d="M138.60,406.30 C140.28,406.30 142.13,407.58 143.90,408.90 C145.67,410.22 147.55,412.47 149.20,414.20 C150.85,415.93 152.42,418.92 153.80,419.30 C155.18,419.68 156.23,417.65 157.50,416.50 C158.77,415.35 159.98,413.52 161.40,412.40 C162.82,411.28 164.42,410.63 166.00,409.80 C167.58,408.97 169.62,408.70 170.90,407.40 C172.18,406.10 172.60,404.33 173.70,402.00 C174.80,399.67 176.40,395.53 177.50,393.40 C178.60,391.27 179.43,390.15 180.30,389.20 C181.17,388.25 181.90,387.70 182.70,387.70 C183.50,387.70 184.32,388.32 185.10,389.20 C185.88,390.08 186.62,391.43 187.40,393.00 C188.18,394.57 188.92,396.55 189.80,398.60 C190.68,400.65 191.12,403.43 192.70,405.30 C194.28,407.17 196.93,408.27 199.30,409.80 C201.67,411.33 205.23,413.30 206.90,414.50 C208.57,415.70 209.18,415.95 209.30,417.00 C209.42,418.05 208.07,419.35 207.60,420.80 C207.13,422.25 207.88,424.53 206.50,425.70 C205.12,426.87 201.77,426.70 199.30,427.80 C196.83,428.90 193.43,430.60 191.70,432.30 C189.97,434.00 189.65,435.93 188.90,438.00 C188.15,440.07 187.85,442.88 187.20,444.70 C186.55,446.52 185.75,448.03 185.00,448.90 C184.25,449.77 183.47,449.92 182.70,449.90 C181.93,449.88 181.10,449.52 180.40,448.80 C179.70,448.08 179.32,447.47 178.50,445.60 C177.68,443.73 176.62,439.97 175.50,437.60 C174.38,435.23 173.68,433.55 171.80,431.40 C169.92,429.25 166.88,426.28 164.20,424.70 C161.52,423.12 157.62,421.62 155.70,421.90 C153.78,422.18 153.78,424.62 152.70,426.40 C151.62,428.18 150.52,430.40 149.20,432.60 C147.88,434.80 146.20,437.93 144.80,439.60 C143.40,441.27 142.27,442.47 140.80,442.60 C139.33,442.73 137.82,441.78 136.00,440.40 C134.18,439.02 131.93,436.27 129.90,434.30 C127.87,432.33 125.18,430.65 123.80,428.60 C122.42,426.55 121.75,423.82 121.60,422.00 C121.45,420.18 121.82,419.15 122.90,417.70 C123.98,416.25 126.28,414.77 128.10,413.30 C129.92,411.83 132.05,410.07 133.80,408.90 C135.55,407.73 136.92,406.30 138.60,406.30Z" fill="none" stroke="#0a0a0a" stroke-width="1.5"/>
<ellipse cx="140.4" cy="423.4" rx="10.5" ry="11.03" fill="none" stroke="#0a0a0a" stroke-width="1.5"/>
<ellipse cx="140.4" cy="423.4" rx="8.4" ry="8.82" fill="none" stroke="#0a0a0a" stroke-width="1.5"/>
<ellipse cx="140.4" cy="423.4" rx="6.6" ry="6.93" fill="none" stroke="#0a0a0a" stroke-width="1.5"/>
<ellipse cx="140.4" cy="423.4" rx="4.3" ry="4.51" fill="none" stroke="#0a0a0a" stroke-width="1.5"/>
<ellipse cx="140.4" cy="423.6" rx="1.6" ry="2.2" fill="#0a0a0a"/>
<path d="M182.50,402.70 C183.67,402.70 184.58,404.08 186.00,405.20 C187.42,406.32 189.25,407.93 191.00,409.40 C192.75,410.87 194.95,412.50 196.50,414.00 C198.05,415.50 200.30,416.90 200.30,418.40 C200.30,419.90 198.05,421.43 196.50,423.00 C194.95,424.57 192.75,426.27 191.00,427.80 C189.25,429.33 187.42,430.90 186.00,432.20 C184.58,433.50 183.67,435.60 182.50,435.60 C181.33,435.60 180.42,433.50 179.00,432.20 C177.58,430.90 175.75,429.33 174.00,427.80 C172.25,426.27 169.77,424.57 168.50,423.00 C167.23,421.43 166.40,419.90 166.40,418.40 C166.40,416.90 167.23,415.50 168.50,414.00 C169.77,412.50 172.25,410.87 174.00,409.40 C175.75,407.93 177.58,406.32 179.00,405.20 C180.42,404.08 181.33,402.70 182.50,402.70Z" fill="none" stroke="#0a0a0a" stroke-width="1.5"/>
<path d="M182.50,406.20 C184.50,406.20 186.83,407.45 188.50,408.50 C190.17,409.55 191.52,410.82 192.50,412.50 C193.48,414.18 194.40,416.52 194.40,418.60 C194.40,420.68 193.48,423.27 192.50,425.00 C191.52,426.73 190.17,427.97 188.50,429.00 C186.83,430.03 184.50,431.20 182.50,431.20 C180.50,431.20 178.17,430.03 176.50,429.00 C174.83,427.97 173.52,426.73 172.50,425.00 C171.48,423.27 170.40,420.68 170.40,418.60 C170.40,416.52 171.48,414.18 172.50,412.50 C173.52,410.82 174.83,409.55 176.50,408.50 C178.17,407.45 180.50,406.20 182.50,406.20Z" fill="none" stroke="#0a0a0a" stroke-width="1.5"/>
<ellipse cx="182.6" cy="418.8" rx="8.0" ry="8.2" fill="none" stroke="#0a0a0a" stroke-width="3.1"/>
<ellipse cx="182.6" cy="418.8" rx="10.0" ry="10.40" fill="none" stroke="#0a0a0a" stroke-width="1.0"/>
<ellipse cx="182.6" cy="418.8" rx="11.0" ry="11.44" fill="none" stroke="#0a0a0a" stroke-width="1.0"/>
<path d="M210.00,412.20 C210.82,411.50 212.42,410.75 214.00,411.00 C215.58,411.25 217.88,412.85 219.50,413.70 C221.12,414.55 222.28,415.13 223.70,416.10 C225.12,417.07 227.68,418.63 228.00,419.50 C228.32,420.37 226.62,420.48 225.60,421.30 C224.58,422.12 222.42,423.18 221.90,424.40 C221.38,425.62 222.30,427.18 222.50,428.60 C222.70,430.02 223.70,431.07 223.10,432.90 C222.50,434.73 220.32,438.08 218.90,439.60 C217.48,441.12 216.02,441.80 214.60,442.00 C213.18,442.20 211.62,441.92 210.40,440.80 C209.18,439.68 207.92,437.33 207.30,435.30 C206.68,433.27 206.08,430.02 206.70,428.60 C207.32,427.18 209.68,427.40 211.00,426.80 C212.32,426.20 213.90,426.02 214.60,425.00 C215.30,423.98 215.70,421.92 215.20,420.70 C214.70,419.48 212.62,418.62 211.60,417.70 C210.58,416.78 209.37,416.12 209.10,415.20 C208.83,414.28 209.18,412.90 210.00,412.20Z" fill="none" stroke="#0a0a0a" stroke-width="1.5"/>
<path d="M211.00,431.70 C211.60,430.78 213.98,429.32 215.20,429.20 C216.42,429.08 217.88,430.08 218.30,431.00 C218.72,431.92 218.27,433.78 217.70,434.70 C217.13,435.62 215.92,436.50 214.90,436.50 C213.88,436.50 212.25,435.50 211.60,434.70 C210.95,433.90 210.40,432.62 211.00,431.70Z" fill="none" stroke="#0a0a0a" stroke-width="1.5"/>
<rect x="159.5" y="478" width="73.7" height="53.3" fill="none" stroke="#2a2a2a" stroke-width="1.2"/>
<path d="M183.40,489.60 C184.78,489.60 185.98,490.08 187.30,490.90 C188.62,491.72 190.27,493.10 191.30,494.50 C192.33,495.90 193.22,497.55 193.50,499.30 C193.78,501.05 193.67,503.33 193.00,505.00 C192.33,506.67 191.10,508.35 189.50,509.30 C187.90,510.25 185.30,510.77 183.40,510.70 C181.50,510.63 179.70,509.93 178.10,508.90 C176.50,507.87 174.67,506.03 173.80,504.50 C172.93,502.97 172.77,501.30 172.90,499.70 C173.03,498.10 173.58,496.37 174.60,494.90 C175.62,493.43 177.53,491.78 179.00,490.90 C180.47,490.02 182.02,489.60 183.40,489.60Z" fill="none" stroke="#0a0a0a" stroke-width="1.65"/>
<path d="M183.40,495.80 C184.78,495.87 186.93,496.70 187.80,497.50 C188.67,498.30 188.75,499.58 188.60,500.60 C188.45,501.62 187.77,502.87 186.90,503.60 C186.03,504.33 184.63,505.00 183.40,505.00 C182.17,505.00 180.38,504.33 179.50,503.60 C178.62,502.87 178.10,501.68 178.10,500.60 C178.10,499.52 178.62,497.90 179.50,497.10 C180.38,496.30 182.02,495.73 183.40,495.80Z" fill="none" stroke="#0a0a0a" stroke-width="1.65"/>
<path d="M212.30,510.20 C213.13,509.73 214.45,511.40 215.40,511.40 C216.35,511.40 217.28,509.82 218.00,510.20 C218.72,510.58 219.63,512.45 219.70,513.70 C219.77,514.95 219.12,516.87 218.40,517.70 C217.68,518.53 216.57,518.70 215.40,518.70 C214.23,518.70 212.23,518.45 211.40,517.70 C210.57,516.95 210.25,515.45 210.40,514.20 C210.55,512.95 211.47,510.67 212.30,510.20Z" fill="none" stroke="#0a0a0a" stroke-width="1.65"/>
<text x="364" y="332.6" font-size="28" font-weight="bold">d</text>
<line x1="432" y1="359.1000000000001" x2="432" y2="570.2" stroke="#222" stroke-width="1.5"/>
<line x1="428.5" y1="570.20" x2="432" y2="570.20" stroke="#222" stroke-width="1.4"/>
<text x="428" y="575.50" font-size="15" font-weight="bold" text-anchor="end">0</text>
<line x1="430" y1="559.68" x2="432" y2="559.68" stroke="#222" stroke-width="1"/>
<line x1="430" y1="549.16" x2="432" y2="549.16" stroke="#222" stroke-width="1"/>
<line x1="430" y1="538.64" x2="432" y2="538.64" stroke="#222" stroke-width="1"/>
<line x1="430" y1="528.12" x2="432" y2="528.12" stroke="#222" stroke-width="1"/>
<line x1="428.5" y1="517.60" x2="432" y2="517.60" stroke="#222" stroke-width="1.4"/>
<text x="428" y="522.90" font-size="15" font-weight="bold" text-anchor="end">25</text>
<line x1="430" y1="507.08" x2="432" y2="507.08" stroke="#222" stroke-width="1"/>
<line x1="430" y1="496.56" x2="432" y2="496.56" stroke="#222" stroke-width="1"/>
<line x1="430" y1="486.04" x2="432" y2="486.04" stroke="#222" stroke-width="1"/>
<line x1="430" y1="475.52" x2="432" y2="475.52" stroke="#222" stroke-width="1"/>
<line x1="428.5" y1="465.00" x2="432" y2="465.00" stroke="#222" stroke-width="1.4"/>
<text x="428" y="470.30" font-size="15" font-weight="bold" text-anchor="end">50</text>
<line x1="430" y1="454.48" x2="432" y2="454.48" stroke="#222" stroke-width="1"/>
<line x1="430" y1="443.96" x2="432" y2="443.96" stroke="#222" stroke-width="1"/>
<line x1="430" y1="433.44" x2="432" y2="433.44" stroke="#222" stroke-width="1"/>
<line x1="430" y1="422.92" x2="432" y2="422.92" stroke="#222" stroke-width="1"/>
<line x1="428.5" y1="412.40" x2="432" y2="412.40" stroke="#222" stroke-width="1.4"/>
<text x="428" y="417.70" font-size="15" font-weight="bold" text-anchor="end">75</text>
<line x1="430" y1="401.88" x2="432" y2="401.88" stroke="#222" stroke-width="1"/>
<line x1="430" y1="391.36" x2="432" y2="391.36" stroke="#222" stroke-width="1"/>
<line x1="430" y1="380.84" x2="432" y2="380.84" stroke="#222" stroke-width="1"/>
<line x1="430" y1="370.32" x2="432" y2="370.32" stroke="#222" stroke-width="1"/>
<line x1="428.5" y1="359.80" x2="432" y2="359.80" stroke="#222" stroke-width="1.4"/>
<text x="428" y="365.10" font-size="15" font-weight="bold" text-anchor="end">100</text>
<rect x="443.85" y="448.80" width="18.00" height="121.40" fill="#858585"/>
<path d="M443.85,570.2 L443.85,448.80 L461.85,448.80 L461.85,570.2" fill="none" stroke="#000" stroke-width="2.3" stroke-linejoin="miter"/>
<rect x="474.15" y="533.80" width="18.20" height="36.40" fill="#fff"/>
<path d="M474.15,570.2 L474.15,533.80 L492.35,533.80 L492.35,570.2" fill="none" stroke="#000" stroke-width="2.3" stroke-linejoin="miter"/>
<rect x="525.95" y="499.30" width="17.50" height="70.90" fill="#858585"/>
<path d="M525.95,570.2 L525.95,499.30 L543.45,499.30 L543.45,570.2" fill="none" stroke="#000" stroke-width="2.3" stroke-linejoin="miter"/>
<rect x="556.45" y="452.80" width="18.40" height="117.40" fill="#fff"/>
<path d="M556.45,570.2 L556.45,452.80 L574.85,452.80 L574.85,570.2" fill="none" stroke="#000" stroke-width="2.3" stroke-linejoin="miter"/>
<rect x="608.35" y="556.94" width="17.80" height="13.26" fill="#858585"/>
<path d="M608.35,570.2 L608.35,556.94 L626.15,556.94 L626.15,570.2" fill="none" stroke="#000" stroke-width="2.3" stroke-linejoin="miter"/>
<rect x="639.05" y="518.02" width="17.50" height="52.18" fill="#fff"/>
<path d="M639.05,570.2 L639.05,518.02 L656.55,518.02 L656.55,570.2" fill="none" stroke="#000" stroke-width="2.3" stroke-linejoin="miter"/>
<rect x="449.20" y="418.30" width="6.6" height="6.6" fill="#858585" stroke="#000" stroke-width="1.8"/>
<rect x="449.20" y="453.20" width="6.6" height="6.6" fill="#858585" stroke="#000" stroke-width="1.8"/>
<rect x="449.20" y="460.80" width="6.6" height="6.6" fill="#858585" stroke="#000" stroke-width="1.8"/>
<rect x="531.80" y="481.70" width="6.6" height="6.6" fill="#858585" stroke="#000" stroke-width="1.8"/>
<rect x="531.80" y="490.10" width="6.6" height="6.6" fill="#858585" stroke="#000" stroke-width="1.8"/>
<rect x="531.80" y="512.70" width="6.6" height="6.6" fill="#858585" stroke="#000" stroke-width="1.8"/>
<rect x="606.90" y="546.60" width="6.6" height="6.6" fill="#858585" stroke="#000" stroke-width="1.8"/>
<rect x="620.30" y="549.10" width="6.6" height="6.6" fill="#858585" stroke="#000" stroke-width="1.8"/>
<rect x="613.60" y="559.40" width="6.6" height="6.6" fill="#858585" stroke="#000" stroke-width="1.8"/>
<circle cx="476.30" cy="527.10" r="3.6" fill="#fff" stroke="#000" stroke-width="1.7"/>
<circle cx="490.20" cy="529.30" r="3.6" fill="#fff" stroke="#000" stroke-width="1.7"/>
<circle cx="483.30" cy="539.90" r="3.6" fill="#fff" stroke="#000" stroke-width="1.7"/>
<circle cx="565.50" cy="439.80" r="3.6" fill="#fff" stroke="#000" stroke-width="1.7"/>
<circle cx="558.40" cy="457.90" r="3.6" fill="#fff" stroke="#000" stroke-width="1.7"/>
<circle cx="572.20" cy="456.70" r="3.6" fill="#fff" stroke="#000" stroke-width="1.7"/>
<circle cx="640.70" cy="520.10" r="3.6" fill="#fff" stroke="#000" stroke-width="1.7"/>
<circle cx="647.40" cy="513.60" r="3.6" fill="#fff" stroke="#000" stroke-width="1.7"/>
<circle cx="654.70" cy="515.20" r="3.6" fill="#fff" stroke="#000" stroke-width="1.7"/>
<line x1="452.8" y1="425.2" x2="452.8" y2="448.80" stroke="#000" stroke-width="2"/>
<line x1="447.3" y1="425.2" x2="457.8" y2="425.2" stroke="#000" stroke-width="2.2"/>
<line x1="484" y1="524.9" x2="484" y2="533.80" stroke="#000" stroke-width="2"/>
<line x1="479.6" y1="524.9" x2="488.4" y2="524.9" stroke="#000" stroke-width="2.2"/>
<line x1="535.1" y1="481.4" x2="535.1" y2="499.30" stroke="#000" stroke-width="2"/>
<line x1="530.3" y1="481.4" x2="539.9" y2="481.4" stroke="#000" stroke-width="2.2"/>
<line x1="565.5" y1="441.5" x2="565.5" y2="452.80" stroke="#000" stroke-width="2"/>
<line x1="560.5" y1="441.5" x2="570.8" y2="441.5" stroke="#000" stroke-width="2.2"/>
<line x1="617.3" y1="548.7" x2="617.3" y2="556.94" stroke="#000" stroke-width="2"/>
<line x1="612.5" y1="548.7" x2="622" y2="548.7" stroke="#000" stroke-width="2.2"/>
<line x1="647.8" y1="513.5" x2="647.8" y2="518.02" stroke="#000" stroke-width="2"/>
<line x1="643" y1="513.5" x2="652.5" y2="513.5" stroke="#000" stroke-width="2.2"/>
<line x1="431.3" y1="570.4" x2="668.7" y2="570.4" stroke="#222" stroke-width="1.8"/>
<line x1="468" y1="570.4" x2="468" y2="573.5" stroke="#222" stroke-width="1"/>
<line x1="550.1" y1="570.4" x2="550.1" y2="573.5" stroke="#222" stroke-width="1"/>
<line x1="632.1" y1="570.4" x2="632.1" y2="573.5" stroke="#222" stroke-width="1"/>
<rect x="628.20" y="394.50" width="6.8" height="6.8" fill="#858585" stroke="#000" stroke-width="1.8"/>
<text x="640.5" y="402.5" font-size="14.5">IV</text>
<circle cx="632.10" cy="420.60" r="3.6" fill="#fff" stroke="#000" stroke-width="1.7"/>
<text x="640.5" y="425" font-size="14.5">PO</text>
<text x="439.5" y="588" font-size="15.5" font-weight="bold"><tspan font-size="10.8" font-weight="normal" dy="-7">2</tspan><tspan dy="7">H</tspan><tspan font-size="11" font-weight="normal" dy="3.2">9</tspan><tspan dy="-3.2">-Cho</tspan></text>
<text x="525" y="588" font-size="15.5" font-weight="bold"><tspan font-size="10.8" font-weight="normal" dy="-7">2</tspan><tspan dy="7">H</tspan><tspan font-size="11" font-weight="normal" dy="3.2">9</tspan><tspan dy="-3.2">-PC</tspan></text>
<text x="601" y="588" font-size="15.5" font-weight="bold"><tspan font-size="10.8" font-weight="normal" dy="-7">2</tspan><tspan dy="7">H</tspan><tspan font-size="11" font-weight="normal" dy="3.2">9</tspan><tspan dy="-3.2">-GPC</tspan></text>
<text transform="translate(391.9,459.2) rotate(-90)" font-size="12.9" font-weight="bold" text-anchor="middle">Contribution to In Vivo <tspan font-size="9" dy="-4.5">2</tspan><tspan dy="4.5">H</tspan><tspan font-size="9" dy="2">9</tspan><tspan dy="-2">-tCho’ (%)</tspan></text>
<text x="0.5" y="685.5" font-size="28" font-weight="bold">e</text>
<path d="M102.8,751 L102.80,686.00 A65,65 0 0 1 130.11,692.01 Z" fill="#9dc6f6" stroke="#111" stroke-width="1.1" stroke-linejoin="round"/>
<path d="M102.8,751 L130.11,692.01 A65,65 0 1 1 61.05,800.82 Z" fill="#f2a2a4" stroke="#111" stroke-width="1.1" stroke-linejoin="round"/>
<path d="M102.8,751 L61.05,800.82 A65,65 0 0 1 76.24,691.68 Z" fill="url(#pg)" stroke="#111" stroke-width="1.1" stroke-linejoin="round"/>
<path d="M102.8,751 L76.24,691.68 A65,65 0 0 1 102.80,686.00 Z" fill="url(#pb)" stroke="#111" stroke-width="1.1" stroke-linejoin="round"/>
<rect x="182.6" y="694.50" width="5.6" height="13.4" rx="0.8" fill="#9dc6f6" stroke="#222" stroke-width="1.3"/>
<text x="191.5" y="706.40" font-size="15" font-weight="bold">6.9 ± 3.6%</text>
<text x="273" y="706.40" font-size="15" font-weight="bold">Betaine</text>
<rect x="182.6" y="721.10" width="5.6" height="13.4" rx="0.8" fill="#f2a2a4" stroke="#222" stroke-width="1.3"/>
<text x="191.5" y="733.00" font-size="15" font-weight="bold">54.2 ± 9.8%</text>
<text x="281.5" y="733.00" font-size="15" font-weight="bold">Cho</text>
<rect x="182.6" y="747.70" width="5.6" height="13.4" rx="0.8" fill="url(#pg)" stroke="#222" stroke-width="1.3"/>
<text x="191.5" y="759.60" font-size="15" font-weight="bold">32.2 ± 7.2%</text>
<text x="281.5" y="759.60" font-size="15" font-weight="bold">PC</text>
<rect x="182.6" y="774.30" width="5.6" height="13.4" rx="0.8" fill="url(#pb)" stroke="#222" stroke-width="1.3"/>
<text x="191.5" y="786.20" font-size="15" font-weight="bold">6.7 ± 2.9%</text>
<text x="273" y="786.20" font-size="15" font-weight="bold">GPC</text>
<text x="362.5" y="685.5" font-size="28" font-weight="bold">f</text>
<path d="M455.6,751.8 L455.60,686.30 A65.5,65.5 0 0 1 519.94,764.07 Z" fill="#9dc6f6" stroke="#111" stroke-width="1.1" stroke-linejoin="round"/>
<path d="M455.6,751.8 L519.94,764.07 A65.5,65.5 0 0 1 490.00,807.54 Z" fill="#f2a2a4" stroke="#111" stroke-width="1.1" stroke-linejoin="round"/>
<path d="M455.6,751.8 L490.00,807.54 A65.5,65.5 0 0 1 395.82,725.03 Z" fill="url(#pg)" stroke="#111" stroke-width="1.1" stroke-linejoin="round"/>
<path d="M455.6,751.8 L395.82,725.03 A65.5,65.5 0 0 1 455.60,686.30 Z" fill="url(#pb)" stroke="#111" stroke-width="1.1" stroke-linejoin="round"/>
<rect x="530.7" y="694.50" width="5.6" height="13.4" rx="0.8" fill="#9dc6f6" stroke="#222" stroke-width="1.3"/>
<text x="539.8" y="706.40" font-size="15" font-weight="bold">28.0 - 8.2%</text>
<text x="628.4" y="706.40" font-size="15" font-weight="bold">Betaine</text>
<rect x="530.7" y="721.10" width="5.6" height="13.4" rx="0.8" fill="#f2a2a4" stroke="#222" stroke-width="1.3"/>
<text x="539.8" y="733.00" font-size="15" font-weight="bold">13.2 ± 2.3%</text>
<text x="630.8" y="733.00" font-size="15" font-weight="bold">Cho</text>
<rect x="530.7" y="747.70" width="5.6" height="13.4" rx="0.8" fill="url(#pg)" stroke="#222" stroke-width="1.3"/>
<text x="539.8" y="759.60" font-size="15" font-weight="bold">40.5 ± 3.3%</text>
<text x="630.8" y="759.60" font-size="15" font-weight="bold">PC</text>
<rect x="530.7" y="774.30" width="5.6" height="13.4" rx="0.8" fill="url(#pb)" stroke="#222" stroke-width="1.3"/>
<text x="539.8" y="786.20" font-size="15" font-weight="bold">18.3 ± 1.1%</text>
<text x="630.8" y="786.20" font-size="15" font-weight="bold">GPC</text>
</svg></body></html>
